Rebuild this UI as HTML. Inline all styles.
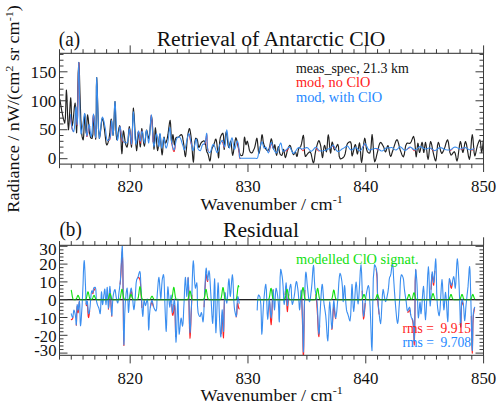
<!DOCTYPE html>
<html><head><meta charset="utf-8"><style>
html,body{margin:0;padding:0;background:#fff;width:500px;height:408px;overflow:hidden}
svg{display:block;font-family:"Liberation Serif",serif}
</style></head><body>
<svg width="500" height="408" viewBox="0 0 500 408">
<rect width="500" height="408" fill="#fff"/>
<defs><clipPath id="ca"><rect x="59.5" y="53.4" width="424" height="110.6"/></clipPath><clipPath id="cb"><rect x="59.5" y="245.3" width="424" height="110.1"/></clipPath></defs>
<g fill="none" stroke-linejoin="round" stroke-linecap="round" clip-path="url(#ca)">
<polyline points="59.8,99.0 60.4,102.8 61.8,111.1 63.5,119.4 64.7,123.1 65.4,117.9 65.8,106.6 66.1,95.2 66.4,90.1 66.9,96.3 67.4,109.9 67.9,123.6 68.5,129.8 69.0,124.8 69.6,113.9 70.2,102.9 70.7,97.9 71.1,102.3 71.4,111.9 71.7,121.5 72.2,125.9 72.9,122.3 73.7,114.5 74.4,106.7 75.1,103.1 75.6,107.8 76.0,118.0 76.3,128.2 76.6,132.8 77.1,121.8 77.7,97.6 78.2,73.5 78.8,62.5 79.4,72.4 80.0,94.8 80.8,119.1 81.8,134.7 82.1,136.7 82.5,138.4 82.9,139.5 83.2,139.9 83.7,135.8 84.1,127.0 84.4,118.1 84.7,114.1 85.1,117.1 85.4,123.5 85.8,130.0 86.2,133.0 86.5,130.2 86.8,124.0 87.2,117.7 87.6,114.9 88.2,118.1 88.8,125.3 89.5,133.0 90.6,137.6 91.0,138.0 91.4,138.3 91.8,138.5 92.1,138.4 92.9,134.4 93.2,126.3 93.3,118.5 93.5,114.9 94.0,118.7 94.6,127.0 95.2,135.3 95.7,139.1 96.1,129.5 96.3,108.3 96.4,87.1 96.7,77.5 97.2,87.0 97.8,107.9 98.5,128.9 99.4,138.4 100.1,135.2 100.9,128.1 101.6,121.0 102.4,117.8 102.9,119.1 103.5,122.3 104.0,126.3 104.5,130.0 105.0,134.3 105.6,139.2 106.1,143.3 106.8,145.0 107.4,144.4 108.0,142.7 108.6,140.5 109.1,138.2 109.8,133.2 110.3,126.9 110.7,121.4 111.2,119.1 111.7,121.6 112.2,127.2 112.7,132.8 113.1,135.3 113.6,130.0 114.1,118.4 114.6,106.8 115.0,101.5 115.4,107.5 115.7,120.6 116.1,133.7 116.8,139.7 117.5,137.5 118.2,132.7 119.0,127.9 119.7,125.7 120.4,130.1 121.0,139.7 121.4,149.3 121.9,153.7 122.3,150.1 122.6,142.3 122.9,134.5 123.4,130.9 123.9,132.6 124.4,136.4 125.0,140.9 125.6,144.1 126.0,145.2 126.4,146.2 126.7,146.9 127.1,147.1 127.8,143.8 128.3,136.7 128.8,129.7 129.3,126.5 129.9,129.7 130.4,136.8 131.0,143.9 131.5,147.1 132.0,141.0 132.5,127.6 132.9,114.2 133.4,108.1 134.1,114.7 134.9,129.4 135.8,144.0 136.6,150.7 137.1,147.7 137.6,141.2 138.0,134.6 138.5,131.6 139.0,134.0 139.4,139.3 139.9,144.6 140.3,147.0 140.7,144.1 141.0,137.8 141.4,131.4 141.8,128.5 142.4,131.3 143.0,137.3 143.7,143.4 144.4,146.2 144.9,143.7 145.5,138.1 146.0,132.6 146.6,130.0 147.1,131.4 147.7,134.4 148.3,137.4 148.8,138.8 149.6,135.2 150.2,127.4 150.9,119.5 151.5,116.0 152.2,121.2 152.9,132.6 153.5,143.9 154.0,149.1 154.4,145.8 154.7,138.5 155.0,131.1 155.4,127.8 155.9,131.4 156.4,139.2 157.0,147.0 157.6,150.6 158.2,148.1 158.7,142.5 159.3,136.9 159.9,134.4 160.5,137.6 161.0,144.7 161.6,151.8 162.1,155.0 162.6,152.2 163.0,146.0 163.5,139.8 164.0,137.0 164.3,138.0 164.7,140.1 165.1,142.2 165.5,143.2 165.9,142.8 166.3,141.8 166.8,140.3 167.2,138.8 168.0,134.2 168.8,128.1 169.5,122.7 170.1,120.4 170.6,124.0 171.0,131.8 171.3,139.6 171.7,143.2 172.0,141.9 172.3,138.9 172.6,135.9 172.9,134.6 173.3,136.2 173.7,139.8 174.1,143.4 174.5,145.0 174.8,144.0 175.0,141.8 175.4,139.3 176.0,137.7 176.5,137.4 177.2,137.3 177.8,137.2 178.5,137.0 179.3,136.4 180.1,135.5 180.9,134.8 181.5,134.6 182.1,135.4 182.6,137.1 182.9,139.2 183.3,141.4 183.9,145.5 184.4,150.6 184.9,154.9 185.4,156.7 185.9,154.3 186.5,148.5 187.0,141.8 187.6,136.5 188.0,133.9 188.5,131.3 189.0,129.3 189.4,128.5 189.9,129.5 190.4,132.1 190.9,135.5 191.3,138.9 191.9,145.2 192.4,152.9 192.9,159.4 193.4,162.2 193.8,158.6 194.2,150.6 194.7,142.4 195.6,138.3 195.9,138.2 196.3,138.4 196.7,138.6 197.0,139.0 197.6,140.8 198.0,143.7 198.4,146.3 198.9,147.5 199.4,146.9 200.0,145.3 200.7,143.6 201.5,142.3 202.2,141.7 203.0,141.2 203.7,140.9 204.4,141.0 205.2,142.6 205.8,145.6 206.2,148.9 206.7,151.4 207.0,152.2 207.4,152.7 207.7,153.3 208.0,154.0 208.5,155.9 209.0,158.2 209.5,160.3 209.9,161.1 210.4,159.6 210.8,156.0 211.3,151.9 211.9,148.8 212.3,147.7 212.8,146.8 213.3,145.9 213.8,144.9 214.3,143.2 214.9,141.3 215.3,139.7 215.8,139.0 216.4,140.5 216.9,143.9 217.3,148.0 217.7,151.4 218.0,153.5 218.2,155.6 218.4,157.2 218.6,157.9 218.9,155.3 219.2,149.4 219.6,142.6 220.3,137.7 220.9,136.1 221.6,134.6 222.3,133.5 222.9,133.2 223.5,135.8 223.8,141.4 223.9,146.9 224.2,149.4 224.6,146.7 225.1,140.7 225.6,134.6 226.2,131.9 226.8,134.3 227.4,139.7 228.1,145.0 228.8,147.5 229.3,146.5 229.8,144.2 230.3,142.0 230.7,141.0 231.2,143.3 231.7,148.2 232.2,153.1 232.7,155.3 233.4,152.6 234.2,146.5 235.1,140.5 235.9,137.7 236.5,138.9 237.1,141.8 237.8,145.2 238.4,148.2 238.9,150.3 239.4,152.4 240.0,154.2 240.7,155.3 241.1,155.5 241.6,155.6 242.1,155.5 242.5,155.3 243.4,151.8 243.8,145.7 244.1,139.8 244.5,137.1 244.9,138.3 245.2,140.9 245.6,143.5 246.0,144.7 246.3,144.2 246.6,143.0 246.9,141.7 247.2,141.2 247.5,141.6 247.8,142.7 248.1,144.0 248.4,145.3 248.8,147.0 249.1,148.8 249.5,150.5 250.1,151.8 250.5,152.3 251.0,152.7 251.5,152.9 251.9,152.9 252.4,152.5 252.8,151.8 253.2,150.8 253.6,150.0 253.9,149.3 254.2,148.7 254.5,147.9 254.8,147.1 255.3,144.8 255.9,141.8 256.4,139.3 256.9,138.2 257.4,140.6 257.9,145.9 258.4,151.1 258.9,153.5 259.3,152.6 259.8,150.2 260.3,147.4 260.7,144.7 261.1,141.8 261.4,138.5 261.7,135.8 262.1,134.7 262.4,135.7 262.8,138.2 263.1,141.1 263.6,143.5 264.0,144.8 264.4,146.1 264.9,147.2 265.4,148.2 265.8,149.0 266.3,149.7 266.7,150.3 267.2,150.6 267.6,150.6 268.1,150.3 268.5,149.9 268.9,149.4 269.6,147.0 270.2,143.5 270.8,140.2 271.3,138.8 271.9,140.5 272.5,144.1 273.1,147.7 273.6,149.4 273.9,148.7 274.2,147.0 274.5,145.4 274.8,144.7 275.2,146.4 275.7,150.0 276.1,153.6 276.6,155.3 277.0,153.9 277.5,150.9 277.9,147.9 278.4,146.5 278.8,147.5 279.1,149.8 279.5,152.3 280.1,154.1 280.5,154.6 281.0,155.0 281.5,155.3 281.9,155.3 282.4,154.2 282.9,152.2 283.2,150.3 283.6,149.4 284.1,150.7 284.5,153.5 284.9,156.3 285.4,157.6 285.9,156.6 286.5,154.3 287.1,151.6 287.8,149.4 288.3,148.1 288.8,146.7 289.4,145.7 289.9,145.3 290.4,145.9 290.9,147.3 291.4,149.1 291.9,150.6 292.3,151.8 292.7,153.2 293.2,154.2 293.6,154.7 294.0,154.3 294.5,153.2 295.0,152.2 295.4,151.8 295.8,152.6 296.2,154.2 296.5,155.8 296.9,156.5 297.4,155.4 297.8,153.0 298.3,150.2 298.9,148.2 299.3,147.7 299.8,147.4 300.3,147.0 300.7,146.5 301.5,143.9 302.2,140.1 302.8,136.7 303.4,135.3 303.9,138.6 304.2,145.8 304.6,153.0 305.4,156.5 305.9,156.2 306.5,155.4 307.2,154.3 307.8,153.5 308.4,152.9 309.0,152.3 309.6,151.9 310.1,151.8 311.1,153.7 311.9,157.5 312.7,161.3 313.4,162.9 314.0,161.7 314.5,158.8 314.9,155.4 315.4,152.4 315.8,150.3 316.3,148.3 316.7,146.4 317.2,144.7 317.6,143.4 318.0,142.0 318.5,141.0 318.9,140.6 319.4,141.1 319.8,142.5 320.3,144.2 320.7,145.9 321.2,149.0 321.7,152.9 322.1,156.2 322.5,157.6 323.0,155.7 323.4,151.5 323.9,147.2 324.5,145.3 325.0,146.3 325.5,148.6 326.0,150.8 326.4,151.8 327.0,149.1 327.4,143.3 327.8,137.4 328.3,134.8 328.9,137.7 329.4,144.0 330.0,150.3 330.6,153.2 331.0,151.5 331.3,147.6 331.7,143.8 332.2,142.0 332.7,143.2 333.3,145.9 333.9,148.7 334.6,150.0 335.4,149.1 336.2,147.2 337.1,145.2 337.8,144.4 338.5,146.6 338.8,151.4 339.2,156.2 340.2,158.8 341.1,158.8 342.2,158.3 343.3,157.5 344.2,156.4 345.2,153.7 345.9,149.9 346.4,146.2 347.4,143.6 348.1,142.8 349.0,142.1 349.8,141.8 350.5,141.8 351.3,144.3 351.6,149.2 351.7,153.9 352.1,156.0 352.8,154.2 353.7,150.3 354.5,146.3 355.3,144.5 355.9,146.0 356.4,149.3 356.9,152.5 357.4,154.0 357.9,152.3 358.5,148.4 359.0,144.6 359.5,142.9 360.1,146.0 360.6,152.7 361.0,159.4 361.6,162.4 362.3,158.6 363.1,150.3 363.9,142.0 364.7,138.2 365.3,140.0 365.8,144.2 366.4,148.8 367.4,151.8 368.0,152.4 368.6,152.9 369.2,153.1 369.8,153.0 370.8,149.7 371.3,143.4 371.7,137.3 372.1,134.5 372.7,138.8 373.3,148.1 373.9,157.5 374.7,161.8 375.3,160.8 376.0,158.3 376.7,155.2 377.4,152.4 378.1,149.5 378.8,146.2 379.6,143.6 380.5,142.4 381.3,142.8 382.1,144.1 383.0,145.7 383.7,147.1 384.2,148.5 384.7,150.1 385.1,151.5 385.5,152.0 386.1,151.0 386.7,148.7 387.3,146.5 387.9,145.5 388.6,147.2 389.2,150.9 389.9,154.7 390.6,156.4 391.2,155.8 391.7,154.1 392.3,152.0 393.0,150.0 393.9,147.1 395.0,143.6 396.0,140.8 397.0,139.6 397.8,140.8 398.6,143.7 399.4,147.1 400.2,150.0 401.0,152.1 401.8,154.4 402.6,156.1 403.4,156.8 404.2,154.8 404.9,150.5 405.6,145.9 406.8,143.2 407.6,143.0 408.5,143.2 409.4,143.4 410.2,143.2 411.2,141.7 412.1,139.4 412.9,137.3 413.6,136.4 414.5,139.7 415.2,146.7 415.7,153.6 416.2,156.8 416.6,154.7 417.1,150.0 417.5,145.3 417.9,143.2 418.3,144.6 418.7,147.8 419.1,151.0 419.6,152.5 420.2,150.9 420.9,147.4 421.5,143.9 422.1,142.3 422.6,143.9 423.0,147.4 423.4,150.9 423.8,152.5 424.2,150.9 424.6,147.4 425.1,143.9 425.5,142.3 426.1,145.0 426.8,150.8 427.4,156.6 428.1,159.3 428.7,156.5 429.3,150.4 429.9,144.3 430.6,141.5 431.2,142.7 431.9,145.7 432.5,149.3 433.2,152.5 433.8,155.1 434.5,157.9 435.1,160.1 435.7,161.0 436.4,158.1 437.0,151.7 437.5,145.3 438.3,142.3 439.1,144.0 439.9,147.8 440.8,151.6 441.7,153.4 442.3,153.0 442.9,151.9 443.6,150.5 444.2,149.1 445.1,146.6 445.9,143.5 446.8,140.9 447.6,139.8 448.4,142.2 449.1,147.3 449.9,152.5 451.0,155.1 451.8,154.7 452.7,153.4 453.6,152.2 454.4,151.7 455.2,153.3 455.9,156.5 456.4,159.6 457.0,161.0 457.9,157.9 458.7,151.2 459.6,144.6 460.4,141.5 461.0,143.2 461.6,147.0 462.3,150.8 462.9,152.5 463.5,150.8 464.2,147.0 464.8,143.2 465.5,141.5 466.5,144.3 467.5,150.4 468.5,156.5 469.4,159.3 470.3,155.4 471.0,147.0 471.6,138.5 472.3,134.7 472.9,138.0 473.5,145.3 474.1,152.6 474.8,155.9 475.4,154.7 476.0,151.9 476.7,148.5 477.4,145.7 478.0,143.8 478.7,141.9 479.3,140.4 479.9,139.8 480.5,141.8 480.9,146.2 481.2,150.5 481.6,152.5 482.1,150.6 482.7,146.6 483.1,142.5 483.3,140.6" stroke="#222" stroke-width="1.15"/>
<polyline points="70.5,116.0 70.6,117.9 71.0,122.2 71.6,126.7 72.2,129.5 72.6,130.2 72.9,131.0" stroke="#ff2020" stroke-width="1.0"/>
<polyline points="76.6,116.1 76.9,122.5 77.2,125.5 77.7,115.9 78.0,94.3 78.4,72.7 78.8,62.7 79.2,73.7 79.6,98.2" stroke="#ff2020" stroke-width="1.0"/>
<polyline points="86.3,132.8 86.9,136.8 87.4,135.4 88.0,131.6 88.5,127.3 89.1,125.0 89.7,126.6" stroke="#ff2020" stroke-width="1.0"/>
<polyline points="92.5,125.7 93.0,118.0 93.5,114.7 94.1,118.5 94.7,126.4 95.2,134.2 95.7,137.7" stroke="#ff2020" stroke-width="1.0"/>
<polyline points="108.6,140.6 109.2,140.5 109.7,140.1 110.6,135.9 111.0,129.4 111.3,123.5 111.6,120.8" stroke="#ff2020" stroke-width="1.0"/>
<polyline points="120.0,126.6 120.5,128.6 121.0,133.0 121.6,138.1 122.4,141.3 123.0,141.7 123.6,141.9" stroke="#ff2020" stroke-width="1.0"/>
<polyline points="129.3,128.8 129.9,131.5 130.5,137.1 131.0,142.6 131.5,144.8 132.1,139.5 132.5,128.2" stroke="#ff2020" stroke-width="1.0"/>
<polyline points="137.9,133.1 138.5,131.4 139.0,133.7 139.4,137.8 139.9,141.7 140.3,143.3 140.7,141.1 141.2,137.0 141.6,132.9 142.1,131.0" stroke="#ff2020" stroke-width="1.0"/>
<polyline points="150.7,119.3 151.3,115.1 151.9,120.2 152.5,131.1 153.1,141.8" stroke="#ff2020" stroke-width="1.0"/>
<polyline points="171.7,142.7 172.2,145.5 172.8,148.6 173.5,151.2 174.1,151.9 174.8,149.4 175.4,144.8" stroke="#ff2020" stroke-width="1.0"/>
<polyline points="188.8,134.0 189.5,135.8 190.1,138.9 190.7,141.9 191.3,144.3 191.8,146.1" stroke="#ff2020" stroke-width="1.0"/>
<polyline points="204.1,144.4 204.5,144.4 205.3,143.1 205.9,139.9 206.3,136.4 206.7,134.5 207.0,136.5 207.1,141.7 207.4,147.3 208.0,150.8" stroke="#ff2020" stroke-width="1.0"/>
<polyline points="221.0,142.1 221.7,141.4 222.3,141.8 222.9,143.4 223.5,145.5 224.0,147.1 224.5,147.5" stroke="#ff2020" stroke-width="1.0"/>
<polyline points="236.6,142.6 237.2,142.0 237.5,142.7 237.8,143.9 238.1,145.2 238.4,146.4 238.8,149.4 239.2,153.3 239.4,156.8 239.8,158.6 239.9,158.6 239.9,158.7 240.0,158.6 240.1,158.6 240.5,158.4" stroke="#ff2020" stroke-width="1.0"/>
<polyline points="269.2,151.5 269.9,148.5 270.6,145.7 271.3,144.2 271.8,144.4 272.3,145.7 272.8,147.4" stroke="#ff2020" stroke-width="1.0"/>
<polyline points="285.2,150.7 286.0,150.9 286.9,150.9 287.8,149.4 288.6,147.7" stroke="#ff2020" stroke-width="1.0"/>
<polyline points="301.1,148.9 302.0,150.1 302.7,150.8 303.3,150.7 304.0,149.7 304.6,148.7" stroke="#ff2020" stroke-width="1.0"/>
<polyline points="316.0,147.5 316.9,149.0 317.7,150.5 318.5,150.9 319.5,150.8" stroke="#ff2020" stroke-width="1.0"/>
<polyline points="332.0,146.3 332.5,146.0 333.0,146.3 334.1,147.7 335.2,148.7" stroke="#ff2020" stroke-width="1.0"/>
<polyline points="362.6,147.4 363.8,145.6 365.0,144.1" stroke="#ff2020" stroke-width="1.0"/>
<polyline points="376.0,148.6 377.0,149.2 378.2,149.5" stroke="#ff2020" stroke-width="1.0"/>
<polyline points="407.5,149.0 408.7,148.4 410.0,147.5" stroke="#ff2020" stroke-width="1.0"/>
<polyline points="412.5,148.8 413.8,150.7 415.0,150.6" stroke="#ff2020" stroke-width="1.0"/>
<polyline points="431.3,148.7 432.5,150.2 433.8,150.9" stroke="#ff2020" stroke-width="1.0"/>
<polyline points="450.0,150.5 451.3,150.2 452.5,148.6" stroke="#ff2020" stroke-width="1.0"/>
<polyline points="461.2,149.4 462.5,149.0 463.8,147.8" stroke="#ff2020" stroke-width="1.0"/>
<polyline points="471.2,149.8 472.5,150.0 473.6,149.3 474.0,148.9" stroke="#ff2020" stroke-width="1.0"/>
<polyline points="70.5,114.6 70.6,116.4 71.0,120.6 71.6,125.3 72.2,128.8 72.6,129.9 72.9,130.9 73.3,131.6 73.7,131.8 74.5,127.8 75.0,119.2 75.5,110.7 75.9,106.8 76.3,109.6 76.6,115.9 76.9,122.2 77.2,125.0 77.7,115.2 78.0,93.6 78.4,72.0 78.8,62.2 79.2,73.4 79.6,98.1 80.1,122.7 81.0,134.0 81.4,132.9 81.9,130.3 82.4,127.0 82.9,124.0 83.4,120.9 83.8,117.4 84.3,114.6 84.7,113.4 85.3,117.0 85.8,124.8 86.3,132.6 86.9,136.2 87.4,134.4 88.0,130.3 88.5,126.2 89.1,124.4 89.7,126.4 90.2,130.7 90.8,135.0 91.3,136.9 91.9,133.3 92.5,125.5 93.0,117.7 93.5,114.1 94.1,117.8 94.7,125.9 95.2,133.9 95.7,137.6 96.1,128.2 96.3,107.5 96.4,86.9 96.7,77.5 97.2,87.0 97.8,107.9 98.5,128.9 99.4,138.4 100.1,135.1 100.8,127.8 101.5,120.5 102.4,117.1 103.1,118.3 103.9,121.2 104.6,124.8 105.3,128.1 105.8,131.7 106.2,135.6 106.7,139.0 107.5,140.6 108.0,140.6 108.6,140.3 109.2,139.8 109.7,139.1 110.6,135.1 111.0,128.9 111.3,123.1 111.6,120.6 112.0,122.9 112.4,128.0 112.7,133.0 113.1,135.3 113.6,130.0 114.1,118.4 114.5,106.8 115.0,101.5 115.5,107.6 116.1,120.9 116.7,134.3 117.5,140.4 118.1,138.2 118.7,133.5 119.4,128.7 120.0,126.5 120.5,128.2 121.0,132.1 121.6,136.5 122.4,139.7 123.0,140.7 123.6,141.5 124.2,142.2 124.9,142.6 125.4,142.8 126.0,142.9 126.6,142.9 127.1,142.6 128.0,139.9 128.5,135.2 128.9,130.7 129.3,128.7 129.9,131.1 130.5,136.4 131.0,141.7 131.5,144.1 132.1,139.0 132.5,127.9 132.9,116.8 133.4,111.8 133.9,116.8 134.5,127.9 135.1,139.0 135.9,144.1 136.5,142.1 137.2,137.5 137.9,133.0 138.5,130.9 139.0,132.5 139.4,136.1 139.9,139.6 140.3,141.2 140.7,139.6 141.2,136.1 141.6,132.5 142.1,130.9 142.7,132.8 143.3,137.0 143.9,141.1 144.5,143.0 145.0,141.0 145.5,136.6 146.0,132.2 146.5,130.2 147.0,132.2 147.6,136.6 148.2,141.0 148.7,143.0 149.4,138.6 150.1,128.8 150.7,119.1 151.3,114.7 151.9,119.7 152.5,130.6 153.1,141.5 153.9,146.5 154.5,144.5 155.2,140.1 155.8,135.6 156.5,133.6 157.2,135.6 157.8,140.1 158.5,144.5 159.0,146.5 159.3,144.4 159.6,139.9 159.7,135.4 160.0,133.4 160.4,135.7 160.8,140.7 161.3,145.8 161.8,148.1 162.2,146.5 162.7,142.9 163.2,139.3 163.7,137.7 164.3,139.3 164.9,142.9 165.5,146.5 166.1,148.1 166.6,147.4 167.1,145.8 167.6,143.6 168.0,141.4 168.5,137.6 169.0,132.9 169.4,129.0 169.8,127.3 170.2,129.1 170.6,133.4 171.1,138.5 171.7,142.6 172.2,145.0 172.8,147.4 173.5,149.3 174.1,150.0 174.8,148.3 175.4,144.4 176.2,140.3 177.2,137.7 177.8,137.3 178.4,137.0 179.0,136.9 179.6,137.1 180.5,138.3 181.3,140.5 182.0,143.0 182.7,145.1 183.2,146.6 183.6,148.2 184.0,149.5 184.5,150.0 185.5,147.4 186.6,141.7 187.8,136.0 188.8,133.4 189.5,134.6 190.1,137.4 190.7,140.9 191.3,143.8 191.8,145.9 192.2,148.1 192.6,149.9 193.1,150.6 193.8,148.8 194.7,144.7 195.5,140.7 196.2,138.9 196.7,140.2 197.0,143.1 197.4,146.4 198.0,148.7 198.5,149.5 199.1,150.2 199.7,150.6 200.2,150.7 200.9,149.7 201.5,147.7 202.1,145.5 202.8,144.2 203.2,144.1 203.7,144.1 204.1,144.2 204.5,144.0 205.3,141.8 205.9,138.2 206.3,134.7 206.7,133.2 207.0,135.6 207.1,140.9 207.4,146.8 208.0,150.7 208.4,151.5 208.9,152.2 209.4,152.6 209.9,152.7 210.8,151.3 211.6,148.4 212.4,145.5 213.2,144.2 213.5,144.3 213.9,144.8 214.2,145.4 214.5,146.0 215.1,147.7 215.8,149.9 216.5,151.9 217.1,152.7 217.7,151.8 218.4,149.6 219.0,147.1 219.7,144.9 220.3,143.4 221.0,141.9 221.7,140.7 222.3,140.3 222.9,141.4 223.5,143.7 224.0,146.0 224.5,147.0 225.2,144.3 225.7,138.4 226.2,132.6 226.8,129.9 227.4,132.7 228.0,139.0 228.7,145.2 229.4,148.1 230.0,146.5 230.7,142.9 231.3,139.3 232.0,137.7 232.6,139.5 233.3,143.5 233.9,147.6 234.6,149.4 235.2,148.1 235.9,145.2 236.6,142.3 237.2,141.0 237.5,141.3 237.8,142.0 238.1,143.0 238.4,144.1 238.8,147.3 239.2,151.7 239.4,155.7 239.8,157.9 239.9,158.0 239.9,158.1 240.0,158.2 240.1,158.2 240.5,158.3 241.0,158.3 241.7,158.2 242.2,158.2 242.8,158.2 243.3,158.2 243.8,158.2 244.4,158.2 244.9,158.2 245.4,158.2 246.0,158.2 246.5,158.2 247.0,158.2 247.6,158.2 248.1,158.2 248.6,158.2 249.2,158.2 249.7,158.2 250.3,158.2 250.8,158.2 251.3,158.2 251.9,158.2 252.4,158.2 252.9,158.2 253.5,158.2 254.0,158.2 254.5,158.2 255.1,158.2 255.6,158.3 256.2,158.4 256.7,158.4 257.2,158.2 257.8,157.2 258.2,155.6 258.5,153.7 258.9,151.8 259.6,149.0 260.4,145.7 261.1,143.0 261.9,141.8 262.5,142.8 263.0,144.9 263.6,147.1 264.2,148.2 264.6,148.1 265.0,147.6 265.4,147.2 265.8,147.0 266.5,148.0 267.1,150.1 267.8,152.0 268.4,152.9 269.2,151.2 269.9,147.6 270.6,144.0 271.3,142.4 271.8,143.2 272.3,145.0 272.8,147.2 273.5,149.0 274.2,150.3 275.0,151.6 275.8,152.6 276.6,152.9 277.7,151.2 278.8,147.8 279.8,144.4 280.7,142.9 281.3,144.1 281.8,146.8 282.3,149.6 283.1,151.2 283.7,151.3 284.5,151.0 285.2,150.5 286.0,150.0 286.9,149.2 287.8,148.2 288.6,147.4 289.5,147.1 290.5,148.2 291.5,150.4 292.5,152.5 293.6,153.5 294.7,152.7 295.9,150.7 297.2,148.7 298.4,147.6 299.3,147.7 300.2,148.2 301.1,148.7 302.0,149.0 302.7,148.9 303.3,148.8 304.0,148.5 304.6,148.3 305.2,148.1 305.9,147.8 306.5,147.6 307.2,147.6 308.2,148.3 309.2,149.5 310.2,150.7 311.3,151.2 312.5,150.6 313.7,149.1 314.9,147.7 316.0,147.1 316.9,147.6 317.7,148.7 318.5,149.8 319.5,150.6 320.6,150.9 321.8,150.9 323.0,150.8 324.2,150.6 325.2,150.3 326.2,149.9 327.1,149.4 328.0,149.0 328.8,148.7 329.6,148.3 330.3,147.9 331.0,147.5 331.5,146.9 332.0,146.1 332.5,145.5 333.0,145.2 334.1,146.2 335.2,148.3 336.5,150.5 337.8,151.6 338.8,151.4 339.9,150.7 341.0,149.8 342.0,149.0 342.7,148.6 343.4,148.2 344.0,147.9 344.7,147.5 345.4,147.0 346.0,146.5 346.7,146.1 347.4,146.0 348.3,146.7 349.1,148.0 350.0,149.3 351.0,150.0 352.2,149.7 353.5,148.8 354.8,147.9 356.0,147.6 357.1,148.2 358.1,149.4 359.0,150.6 360.0,151.0 361.3,149.7 362.6,147.2 363.8,144.7 365.0,143.6 366.0,144.5 366.9,146.6 367.9,148.7 369.0,150.0 369.9,150.1 370.9,149.8 372.0,149.3 373.0,149.0 374.0,148.8 375.0,148.5 376.0,148.4 377.0,148.4 378.2,148.9 379.5,149.8 380.8,150.7 382.0,151.0 383.1,150.5 384.1,149.6 385.1,148.6 386.0,148.0 386.5,147.9 387.0,147.8 387.5,147.9 388.0,147.9 388.5,147.8 389.0,147.8 389.5,147.8 390.0,147.7 390.5,147.7 391.0,147.6 391.5,147.5 392.0,147.6 392.9,148.1 393.9,148.9 395.0,149.7 396.0,150.0 397.0,149.5 398.1,148.4 399.1,147.3 400.2,146.8 401.4,147.4 402.6,148.6 403.8,149.9 405.0,150.5 406.2,150.0 407.5,148.8 408.7,147.6 410.0,147.0 411.2,147.5 412.5,148.5 413.8,149.5 415.0,150.0 416.3,149.5 417.5,148.3 418.7,147.2 420.0,146.6 421.2,146.9 422.5,147.7 423.7,148.5 425.0,149.0 426.2,148.9 427.5,148.5 428.8,148.1 430.0,148.0 431.3,148.5 432.5,149.4 433.8,150.2 435.0,150.5 436.3,150.0 437.5,149.0 438.7,148.0 440.0,147.5 441.2,147.7 442.5,148.3 443.7,149.0 445.0,149.5 446.2,149.8 447.5,150.0 448.8,150.1 450.0,150.0 451.3,149.4 452.5,148.4 453.7,147.5 455.0,147.0 456.2,147.2 457.5,147.9 458.7,148.6 460.0,149.0 461.2,148.8 462.5,148.2 463.8,147.7 465.0,147.5 466.3,147.9 467.5,148.7 468.8,149.4 470.0,149.8 471.2,149.6 472.5,149.2 473.6,148.7 474.0,148.5" stroke="#3a8ef0" stroke-width="1.05"/>
</g><g fill="none" stroke-linejoin="round" stroke-linecap="round" clip-path="url(#cb)">
<line x1="59.5" y1="299.7" x2="483.5" y2="299.7" stroke="#222" stroke-width="1.2"/>
<polyline points="71.3,319.4 71.4,319.6 71.8,319.6 72.2,319.2 72.6,318.7 73.0,316.9" stroke="#ff2020" stroke-width="1.1"/>
<polyline points="76.3,325.3 76.5,322.4 76.7,315.7 76.9,309.1 77.2,306.4 77.4,307.6 77.6,309.8 77.9,311.9 78.1,312.8 78.4,311.1 78.8,307.4 79.1,303.7 79.4,301.8" stroke="#ff2020" stroke-width="1.1"/>
<polyline points="86.1,303.1 86.4,305.6 86.6,305.5 86.8,304.9 87.1,304.4 87.3,304.6 87.6,307.4 87.9,312.2 88.2,316.4 88.6,317.6 88.9,316.5 89.2,314.7 89.4,312.7 89.7,310.8" stroke="#ff2020" stroke-width="1.1"/>
<polyline points="92.3,292.2 92.6,293.1 92.8,293.7 93.0,293.5 93.2,292.4 93.4,291.2 93.7,290.6 94.0,290.4 94.4,289.7 94.8,288.9 95.2,288.3" stroke="#ff2020" stroke-width="1.1"/>
<polyline points="108.4,309.1 108.8,306.3 109.1,299.6 109.5,293.0 109.9,290.0 110.4,294.3 110.9,303.4 111.4,312.3 111.8,316.2" stroke="#ff2020" stroke-width="1.1"/>
<polyline points="120.1,284.1 120.4,281.3 120.9,274.2 121.4,264.8 121.9,256.0 122.3,251.6 122.8,265.2 123.2,297.8 123.5,330.8 123.9,345.4" stroke="#ff2020" stroke-width="1.1"/>
<polyline points="129.4,301.3 129.8,297.5 130.1,295.6 130.5,293.7 130.9,292.1 131.2,291.2 131.5,291.8 131.9,293.6 132.2,296.0 132.5,298.4" stroke="#ff2020" stroke-width="1.1"/>
<polyline points="137.9,277.8 138.4,277.3 138.9,277.5 139.4,278.4 139.8,279.2 140.3,281.1 140.6,284.9 140.8,290.1 141.1,294.6 141.5,300.1 141.9,307.4" stroke="#ff2020" stroke-width="1.1"/>
<polyline points="150.4,307.1 150.9,304.6 151.4,302.9 151.9,302.4 152.4,303.2 152.9,304.9 153.5,306.8" stroke="#ff2020" stroke-width="1.1"/>
<polyline points="171.8,304.4 172.1,311.1 172.5,315.2 172.9,315.3 173.5,312.7 174.0,308.5 174.4,305.0 175.0,309.1 175.3,322.5 175.6,336.5" stroke="#ff2020" stroke-width="1.1"/>
<polyline points="188.1,278.0 188.6,287.6 189.1,308.2 189.5,328.8 190.0,338.1 190.3,335.1 190.7,327.6 191.0,318.0 191.4,308.8 191.9,295.0" stroke="#ff2020" stroke-width="1.1"/>
<polyline points="204.1,306.7 204.4,300.3 204.8,292.9 205.3,284.5 205.7,277.6 206.2,274.3 206.5,275.3 206.9,278.0 207.2,280.7 207.6,281.4 207.9,279.3" stroke="#ff2020" stroke-width="1.1"/>
<polyline points="221.2,333.6 221.5,325.3 221.8,317.4 222.2,314.9 222.5,319.8 222.9,328.1 223.2,335.4 223.5,337.9 223.8,330.4 224.0,315.7 224.4,300.8 224.9,293.1" stroke="#ff2020" stroke-width="1.1"/>
<polyline points="236.2,317.0 236.7,314.8 237.0,309.1 237.4,304.0 237.8,303.2 238.2,305.8 238.7,308.0 239.0,308.7 239.2,308.9" stroke="#ff2020" stroke-width="1.1"/>
<polyline points="269.3,300.2 269.8,304.6 270.2,313.4 270.7,321.7 271.2,324.8 271.7,318.6 272.2,306.7 272.7,295.3 273.1,290.1" stroke="#ff2020" stroke-width="1.1"/>
<polyline points="285.2,294.5 285.7,288.3 286.1,286.7 286.5,291.7 286.7,300.5 287.0,308.6 287.4,311.6 287.7,309.1 288.0,304.5 288.4,299.1 288.8,294.5" stroke="#ff2020" stroke-width="1.1"/>
<polyline points="301.2,291.0 301.6,295.2 301.9,304.0 302.2,314.6 302.5,324.4 302.8,335.1 303.0,346.5 303.2,355.5 303.4,358.8 303.7,351.2 303.9,334.7 304.2,315.3 304.6,299.2 304.9,290.3" stroke="#ff2020" stroke-width="1.1"/>
<polyline points="315.8,294.5 316.3,298.6 316.8,303.7 317.5,314.9 318.0,326.1 318.4,334.3 318.9,336.6 319.3,332.8 319.6,325.7" stroke="#ff2020" stroke-width="1.1"/>
<polyline points="331.9,329.4 332.4,326.1 332.8,317.9 333.3,309.9 333.8,306.3 334.2,308.3 334.7,312.7 335.2,317.0 335.7,318.6" stroke="#ff2020" stroke-width="1.1"/>
<polyline points="362.2,291.0 362.8,309.5 363.5,319.0 364.0,317.2 364.6,311.2 365.2,303.4" stroke="#ff2020" stroke-width="1.1"/>
<polyline points="376.1,269.0 376.5,271.6 377.1,277.9 377.3,285.0 377.4,292.6 377.7,299.7 378.3,306.6 379.1,314.1" stroke="#ff2020" stroke-width="1.1"/>
<polyline points="407.6,312.0 408.0,312.2 408.5,311.9 409.1,311.0 409.5,309.9 410.0,310.2 410.3,312.1 410.6,314.7" stroke="#ff2020" stroke-width="1.1"/>
<polyline points="412.1,319.0 412.6,320.7 413.0,323.0 413.6,329.5 413.9,336.7 414.1,342.7 414.3,345.0 414.7,333.0 415.0,307.6 415.2,282.2 415.7,270.0" stroke="#ff2020" stroke-width="1.1"/>
<polyline points="431.1,289.3 431.6,278.3 432.2,274.2 432.6,276.7 432.9,280.8 433.3,284.3 433.7,285.3 434.2,280.3 434.8,271.2" stroke="#ff2020" stroke-width="1.1"/>
<polyline points="449.4,279.2 449.8,281.0 450.3,284.4 450.9,287.5 451.4,288.3 452.0,285.8 452.6,281.6" stroke="#ff2020" stroke-width="1.1"/>
<polyline points="460.3,322.4 460.7,327.2 461.0,323.5 461.2,314.7 461.5,306.0 462.0,302.2 462.3,302.5 462.7,303.2 463.1,304.2 463.4,305.5" stroke="#ff2020" stroke-width="1.1"/>
<polyline points="471.3,316.4 471.6,333.0 472.0,347.0 472.3,353.1 472.5,348.5 472.7,337.2 472.9,324.6 473.4,315.2 473.8,312.5 474.2,309.9 474.5,308.2" stroke="#ff2020" stroke-width="1.1"/>
<polyline points="71.3,313.8 71.4,314.4 71.8,315.7 72.2,316.9 72.6,317.5 73.0,316.3 73.3,313.8 73.6,311.3 73.9,310.1 74.3,310.7 74.7,312.1 75.1,313.9 75.4,315.7 75.7,318.3 75.9,321.3 76.1,323.8 76.3,324.9 76.5,321.7 76.7,314.8 76.9,307.8 77.2,304.6 77.4,305.5 77.6,307.3 77.9,309.2 78.1,310.1 78.4,308.7 78.8,305.5 79.1,302.4 79.4,301.0 79.8,304.9 80.0,313.4 80.2,321.9 80.5,325.8 80.8,324.1 81.2,320.0 81.5,314.8 81.8,310.1 82.1,305.7 82.3,301.3 82.5,296.8 82.7,291.8 83.1,283.1 83.4,272.8 83.8,264.1 84.2,260.5 84.5,263.4 84.9,270.5 85.2,279.0 85.5,286.3 85.7,291.9 85.9,297.9 86.1,302.6 86.4,304.6 86.6,304.0 86.8,302.8 87.1,301.6 87.3,301.0 87.6,303.0 87.9,307.4 88.2,311.8 88.6,313.8 88.9,313.5 89.2,312.5 89.4,311.3 89.7,310.0 90.1,306.8 90.4,302.8 90.7,298.7 91.0,295.4 91.2,293.9 91.4,292.4 91.6,291.3 91.9,290.8 92.1,291.1 92.3,291.7 92.6,292.3 92.8,292.6 93.0,292.0 93.2,290.7 93.4,289.2 93.7,288.1 94.0,287.7 94.4,287.4 94.8,287.2 95.2,287.2 95.8,289.2 96.1,293.2 96.2,297.6 96.5,301.0 96.7,302.1 96.9,303.0 97.1,303.8 97.4,304.6 97.7,305.5 98.1,306.4 98.5,307.3 98.9,308.3 99.3,309.9 99.6,311.7 99.9,313.2 100.2,313.8 100.6,310.3 100.9,302.8 101.2,295.2 101.5,291.8 101.8,293.8 102.0,298.2 102.3,302.6 102.6,304.6 102.9,303.6 103.2,301.0 103.5,298.0 103.8,295.4 104.1,293.4 104.3,291.3 104.6,289.7 104.8,289.0 105.1,291.4 105.4,296.8 105.7,302.2 106.0,304.6 106.3,301.9 106.6,295.9 106.9,289.9 107.2,287.2 107.5,290.5 107.8,297.8 108.1,305.0 108.4,308.3 108.8,304.9 109.1,297.3 109.5,289.7 109.9,286.3 110.4,290.9 110.9,301.0 111.4,311.1 111.8,315.7 112.1,313.5 112.3,308.3 112.6,302.2 113.0,297.3 113.4,294.7 113.9,292.2 114.4,290.3 114.9,289.5 115.3,290.4 115.6,292.7 115.9,295.3 116.3,297.6 116.6,299.3 117.0,301.1 117.4,302.4 117.7,303.0 118.1,301.8 118.4,299.0 118.7,295.4 119.0,292.2 119.4,289.3 119.7,286.5 120.1,283.5 120.4,280.0 120.9,271.0 121.4,259.5 121.9,249.7 122.3,245.5 122.8,261.0 123.2,295.1 123.5,329.2 123.9,344.7 124.2,339.9 124.4,328.4 124.7,315.0 125.2,304.3 125.6,299.0 126.1,293.7 126.7,289.7 127.1,288.1 127.5,291.9 127.9,300.3 128.2,308.6 128.5,312.4 128.8,310.5 129.1,306.0 129.4,300.6 129.8,296.2 130.1,293.6 130.5,291.0 130.9,288.9 131.2,288.1 131.5,289.1 131.9,291.6 132.2,294.7 132.5,297.6 132.9,301.1 133.2,305.1 133.6,308.3 133.9,309.7 134.2,308.4 134.6,305.3 134.9,301.4 135.2,297.6 135.5,293.1 135.8,288.0 136.1,283.4 136.6,280.0 136.9,279.2 137.2,278.6 137.6,278.0 137.9,277.3 138.4,275.7 138.9,273.7 139.4,272.1 139.8,271.4 140.3,273.5 140.6,278.5 140.8,284.9 141.1,290.8 141.5,298.2 141.9,306.6 142.4,313.5 142.8,316.4 143.1,313.9 143.4,308.4 143.7,302.8 144.1,300.3 144.4,301.1 144.8,302.9 145.1,304.8 145.5,305.6 145.9,304.6 146.4,302.3 146.9,300.0 147.3,299.0 147.9,303.9 148.2,314.5 148.4,325.1 148.7,329.9 149.0,327.5 149.2,321.8 149.5,315.2 150.0,309.7 150.4,306.7 150.9,303.6 151.4,301.3 151.9,300.3 152.4,301.3 152.9,303.6 153.5,306.2 154.1,308.3 154.6,309.2 155.1,310.2 155.6,310.8 156.0,311.0 156.6,308.9 156.9,304.3 157.0,298.6 157.3,293.5 157.7,288.6 158.1,283.3 158.5,279.1 158.9,277.3 159.4,280.7 159.9,288.1 160.4,295.5 160.8,298.9 161.1,296.6 161.4,291.1 161.8,284.8 162.2,280.0 162.5,278.2 162.9,276.4 163.2,275.1 163.5,274.6 164.0,277.9 164.3,285.8 164.6,295.6 164.9,304.3 165.2,312.5 165.6,321.4 165.9,328.6 166.2,331.5 166.6,324.5 167.0,309.2 167.4,293.9 167.9,286.9 168.3,290.1 168.8,297.0 169.3,304.0 169.8,307.2 170.1,305.3 170.5,301.1 170.8,296.9 171.1,295.0 171.4,297.8 171.8,303.8 172.1,309.8 172.5,312.6 172.9,310.5 173.5,305.8 174.0,301.1 174.4,299.0 175.0,305.8 175.3,320.7 175.6,335.5 176.0,342.3 176.5,335.5 177.0,320.7 177.5,305.8 177.9,299.0 178.2,304.5 178.5,316.6 178.8,328.7 179.2,334.2 179.6,331.7 180.1,326.1 180.6,320.5 181.1,318.0 181.5,319.3 181.8,322.1 182.2,324.8 182.5,326.1 183.0,323.4 183.4,317.0 183.7,309.0 184.1,301.8 184.4,294.6 184.7,286.6 185.1,280.1 185.4,277.4 185.7,280.4 186.1,286.9 186.5,293.4 186.8,296.4 187.1,293.4 187.5,286.9 187.8,280.4 188.1,277.4 188.6,286.1 189.1,305.1 189.5,324.1 190.0,332.8 190.3,330.2 190.7,323.7 191.0,315.3 191.4,307.2 191.9,294.4 192.3,279.0 192.8,266.1 193.3,260.7 193.8,265.0 194.2,274.4 194.8,283.9 195.4,288.2 195.7,287.4 196.1,285.5 196.5,283.6 196.8,282.8 197.2,286.8 197.3,295.8 197.5,305.7 198.1,312.6 198.5,314.1 199.0,315.4 199.5,316.3 200.0,316.6 200.4,316.0 200.7,314.6 201.1,313.2 201.4,312.6 201.9,314.1 202.3,317.3 202.7,320.5 203.0,322.0 203.4,319.5 203.8,313.6 204.1,306.1 204.4,299.0 204.8,290.1 205.3,279.9 205.7,271.5 206.2,268.0 206.5,269.9 206.9,274.0 207.2,278.2 207.6,280.1 207.9,278.6 208.3,275.4 208.7,272.2 209.0,270.7 209.6,273.9 210.1,281.5 210.6,290.7 211.1,299.0 211.5,306.4 211.9,314.4 212.3,320.8 212.7,323.4 213.2,316.4 213.7,301.1 214.2,285.8 214.6,278.8 215.0,287.2 215.2,305.8 215.5,324.4 215.9,332.8 216.4,325.0 217.0,307.8 217.6,290.6 218.1,282.8 218.5,286.9 218.8,296.7 219.1,308.3 219.5,318.0 219.8,324.0 220.1,330.2 220.5,335.0 220.8,336.9 221.2,332.7 221.5,323.4 221.8,314.1 222.2,309.9 222.5,313.3 222.9,320.7 223.2,328.1 223.5,331.5 223.8,325.4 224.0,311.9 224.4,298.5 224.9,292.3 225.3,294.0 225.8,297.7 226.3,301.4 226.8,303.1 227.4,299.3 227.9,290.9 228.4,282.6 228.9,278.8 229.3,281.6 229.6,287.6 229.9,293.6 230.3,296.4 230.8,293.0 231.3,285.5 231.9,278.1 232.4,274.7 232.9,278.7 233.3,288.1 233.7,298.9 234.3,307.2 234.7,310.4 235.3,313.4 235.8,315.7 236.2,316.6 236.7,313.4 237.0,306.5 237.4,299.6 237.8,296.4 238.2,297.4 238.7,299.7 239.0,302.0 239.2,303.1" stroke="#3a8ef0" stroke-width="1.1"/>
<polyline points="257.2,309.9 257.3,307.6 257.5,302.6 257.9,297.4 258.5,295.0 258.8,295.1 259.2,295.5 259.6,296.2 260.0,297.0 260.9,304.8 261.3,317.3 261.5,329.0 261.8,334.2 262.2,330.6 262.6,322.1 263.1,311.8 263.6,303.1 264.1,297.2 264.7,291.0 265.3,286.1 265.8,284.2 266.4,289.7 266.8,301.8 267.2,313.8 267.7,319.3 268.1,316.1 268.5,309.2 268.9,302.2 269.3,299.0 269.8,302.0 270.2,308.5 270.7,315.0 271.2,318.0 271.7,313.6 272.2,303.8 272.7,294.0 273.1,289.6 273.5,292.8 273.8,299.7 274.1,306.7 274.5,309.9 274.9,306.5 275.2,299.1 275.6,291.6 276.1,288.2 276.5,289.3 277.1,292.0 277.6,295.5 278.0,299.0 278.5,305.2 278.8,312.8 279.0,319.3 279.3,322.0 279.6,313.8 279.8,295.7 280.1,277.6 280.7,269.3 281.1,270.4 281.6,273.1 282.2,276.6 282.6,280.1 283.1,286.6 283.5,294.7 283.8,301.6 284.2,304.5 284.7,301.1 285.2,293.6 285.7,286.2 286.1,282.8 286.5,286.4 286.7,294.3 287.0,302.2 287.4,305.8 287.7,304.4 288.0,301.1 288.4,297.1 288.8,293.6 289.2,290.7 289.8,287.6 290.3,285.2 290.7,284.2 291.2,287.4 291.5,294.3 291.8,301.3 292.3,304.5 292.7,303.7 293.2,301.6 293.7,299.0 294.2,296.4 294.8,292.3 295.3,287.4 295.9,283.2 296.4,281.5 296.9,282.6 297.3,285.4 297.8,288.9 298.2,292.3 298.6,297.2 299.0,303.0 299.3,307.9 299.6,309.9 300.0,306.8 300.4,299.9 300.8,293.1 301.2,290.0 301.6,293.0 301.9,300.3 302.2,309.5 302.5,318.0 302.8,327.9 303.0,339.0 303.2,348.2 303.4,352.0 303.7,345.6 303.9,330.4 304.2,312.4 304.6,297.7 304.9,289.4 305.2,281.0 305.5,274.6 305.9,272.0 306.3,273.8 306.7,278.2 307.1,283.5 307.6,288.2 308.0,292.3 308.5,296.8 309.0,300.3 309.5,301.8 310.0,300.6 310.5,297.5 310.9,293.5 311.4,289.6 312.0,283.0 312.5,274.9 313.0,268.2 313.5,265.3 313.9,268.0 314.1,274.4 314.5,282.0 314.9,288.2 315.3,291.0 315.8,293.5 316.3,296.0 316.8,299.0 317.5,308.0 318.0,319.7 318.4,329.9 318.9,334.2 319.3,331.6 319.6,325.1 319.9,317.2 320.3,309.9 320.7,302.3 321.2,293.9 321.7,287.0 322.2,284.2 322.6,286.2 323.0,290.9 323.4,296.7 323.8,301.8 324.2,305.2 324.7,308.4 325.2,311.7 325.7,315.3 326.3,322.4 326.8,330.9 327.3,338.0 327.8,341.0 328.3,334.9 328.7,321.4 329.2,307.9 329.7,301.8 330.2,306.0 330.8,315.3 331.4,324.6 331.9,328.8 332.4,324.4 332.8,314.6 333.3,304.8 333.8,300.4 334.2,303.1 334.7,309.2 335.2,315.2 335.7,318.0 336.2,316.0 336.8,311.1 337.3,304.8 337.8,299.0 338.3,291.7 338.8,283.3 339.4,276.3 340.0,273.4 340.5,274.2 341.0,276.2 341.5,278.8 341.9,281.5 342.4,286.9 342.7,293.6 342.9,299.4 343.2,301.8 343.5,299.3 343.9,293.7 344.2,288.0 344.6,285.5 345.0,288.6 345.4,295.8 345.9,303.9 346.5,309.9 346.9,311.5 347.3,312.8 347.8,314.0 348.2,315.3 348.7,317.0 349.1,318.9 349.6,320.4 350.0,321.0 350.7,315.2 351.2,302.6 351.6,290.1 352.0,284.4 352.4,288.6 352.8,297.9 353.2,307.2 353.7,311.4 354.3,306.8 354.9,296.7 355.5,286.6 356.1,282.0 356.6,285.4 357.1,293.0 357.6,300.6 358.1,304.0 358.8,297.9 359.6,284.4 360.3,270.9 361.0,264.8 361.6,272.8 362.2,290.5 362.8,308.2 363.5,316.3 364.0,314.0 364.6,308.6 365.2,302.1 365.9,296.7 366.5,293.2 367.2,289.5 367.8,286.7 368.4,285.6 369.0,287.7 369.4,293.0 369.7,299.8 370.1,306.5 370.6,318.4 371.1,333.0 371.5,345.4 372.0,350.6 372.4,337.3 372.7,307.9 373.3,278.4 374.5,264.8 375.0,265.2 375.5,266.3 376.1,267.9 376.5,269.7 377.1,274.9 377.3,281.8 377.4,289.4 377.7,296.7 378.3,304.7 379.1,313.5 379.9,320.7 380.6,323.6 381.2,318.2 381.8,306.5 382.4,294.7 383.1,289.3 383.6,291.2 384.2,295.4 384.9,299.7 385.5,301.6 386.1,300.6 386.8,298.1 387.4,294.9 388.0,291.8 388.5,287.9 388.9,283.5 389.2,279.5 389.7,277.0 389.9,276.7 390.0,276.5 390.2,276.3 390.4,276.0 391.0,273.4 391.5,269.3 392.0,265.5 392.5,263.9 393.0,266.1 393.3,271.3 393.6,277.9 394.0,284.0 394.4,290.4 394.9,297.3 395.4,303.9 395.9,309.9 396.3,314.2 396.7,318.6 397.2,322.0 397.6,323.4 398.1,321.1 398.6,315.4 399.0,308.4 399.5,301.8 399.9,294.0 400.2,285.2 400.6,277.9 401.4,274.7 401.8,274.9 402.2,275.5 402.6,276.4 403.0,277.4 403.5,279.5 403.8,282.3 404.0,285.2 404.3,288.2 404.7,291.6 405.2,295.1 405.7,298.6 406.2,301.8 406.5,304.6 406.8,307.6 407.1,310.0 407.6,311.0 408.0,310.4 408.5,309.1 409.1,307.8 409.5,307.2 410.0,308.4 410.3,311.0 410.6,314.1 411.1,316.6 411.5,317.7 412.1,318.6 412.6,319.5 413.0,320.7 413.6,325.6 413.9,332.4 414.1,338.4 414.3,341.0 414.7,329.8 415.0,305.2 415.2,280.5 415.7,269.3 416.0,270.8 416.3,274.5 416.7,279.3 417.0,284.2 417.4,293.3 417.7,304.5 418.0,314.0 418.4,318.0 418.8,315.5 419.2,310.0 419.6,304.5 420.0,302.0 420.3,303.8 420.5,307.9 420.7,312.0 421.0,313.8 421.6,309.5 422.2,300.1 422.9,290.7 423.5,286.4 424.0,291.6 424.5,303.1 425.0,314.5 425.5,319.7 426.2,311.4 427.0,293.2 427.7,275.1 428.4,266.8 428.9,272.9 429.3,286.4 429.7,299.9 430.2,306.0 430.7,300.6 431.1,288.9 431.6,277.1 432.2,271.7 432.6,273.4 432.9,277.1 433.3,280.8 433.7,282.5 434.2,278.8 434.8,270.7 435.3,262.6 435.7,258.9 436.1,264.5 436.4,277.6 436.7,292.7 437.3,304.0 437.7,308.1 438.2,311.9 438.7,314.7 439.2,315.8 440.0,310.1 440.7,297.6 441.4,285.2 442.0,279.5 442.5,284.3 443.0,294.7 443.4,305.1 443.9,309.9 444.3,307.2 444.7,301.1 445.1,295.0 445.5,292.3 446.1,296.9 446.7,307.0 447.3,317.1 447.8,321.7 448.2,315.0 448.4,300.2 448.7,285.3 449.4,278.5 449.8,279.6 450.3,281.9 450.9,284.3 451.4,285.4 452.0,284.0 452.6,281.0 453.2,278.0 453.7,276.6 454.2,278.4 454.6,282.5 454.9,286.5 455.3,288.3 455.8,283.7 456.3,273.6 456.8,263.5 457.3,258.9 457.8,262.0 458.3,269.7 458.8,279.3 459.2,288.3 459.6,299.2 460.0,311.6 460.3,321.9 460.7,326.1 461.0,321.9 461.2,312.6 461.5,303.3 462.0,299.0 462.3,299.5 462.7,300.9 463.1,302.6 463.4,304.5 463.8,308.7 464.1,314.1 464.4,318.7 464.7,320.7 465.0,318.9 465.4,314.7 465.7,309.4 466.1,304.5 466.6,300.2 467.0,295.8 467.5,291.4 468.0,286.9 468.4,281.0 468.9,274.3 469.2,268.9 469.6,266.6 470.0,270.3 470.3,279.5 470.6,291.0 470.9,301.8 471.3,315.7 471.6,331.7 472.0,344.9 472.3,350.4 472.5,345.5 472.7,334.1 472.9,321.4 473.4,312.6 473.8,310.6 474.2,308.9 474.5,307.7 474.7,307.2" stroke="#3a8ef0" stroke-width="1.1"/>
<polyline points="71.3,290.4 71.8,293.1 72.3,296.3 72.8,298.4 73.3,299.3 73.8,299.6 74.3,299.7 74.8,299.7 75.3,299.7 75.8,299.5 76.3,299.0 76.8,297.9 77.3,296.4 77.8,295.4 78.3,295.5 78.8,296.7 79.3,298.1 79.8,299.1 80.3,299.5 80.8,299.7 81.3,299.7 81.8,299.7 82.3,299.7 82.8,299.7 83.3,299.7 83.8,299.7 84.3,299.7 84.8,299.7 85.3,299.6 85.8,299.3 86.3,298.4 86.8,296.4 87.3,293.8 87.8,291.9 88.3,292.1 88.8,294.3 89.3,296.9 89.8,298.6 90.3,299.4 90.8,299.6 91.3,299.6 91.8,299.5 92.3,299.0 92.8,297.9 93.3,296.4 93.8,295.4 94.3,295.5 94.8,296.7 95.3,298.1 95.8,299.1 96.3,299.5 96.8,299.7 97.3,299.7 97.8,299.7 98.3,299.7 98.8,299.7 99.3,299.7 99.8,299.7 100.3,299.7 100.8,299.7 101.3,299.7 101.8,299.7 102.3,299.7 102.8,299.7 103.3,299.7 103.8,299.7 104.3,299.7 104.8,299.7 105.3,299.7 105.8,299.7 106.3,299.7 106.8,299.7 107.3,299.6 107.8,299.4 108.3,298.7 108.8,297.1 109.3,295.1 109.8,293.6 110.3,293.8 110.8,295.5 111.3,297.5 111.8,298.9 112.3,299.5 112.8,299.7 113.3,299.7 113.8,299.7 114.3,299.7 114.8,299.7 115.3,299.7 115.8,299.7 116.3,299.7 116.8,299.7 117.3,299.7 117.8,299.7 118.3,299.7 118.8,299.7 119.3,299.6 119.8,299.2 120.3,297.9 120.8,295.3 121.3,291.8 121.8,289.3 122.3,289.6 122.8,292.5 123.3,295.9 123.8,298.3 124.3,299.3 124.8,299.6 125.3,299.7 125.8,299.7 126.3,299.7 126.8,299.7 127.3,299.7 127.8,299.7 128.3,299.6 128.8,299.4 129.3,298.8 129.8,297.5 130.3,295.8 130.8,294.5 131.3,294.6 131.8,296.1 132.3,297.8 132.8,299.0 133.3,299.5 133.8,299.7 134.3,299.7 134.8,299.7 135.3,299.7 135.8,299.7 136.3,299.7 136.8,299.7 137.3,299.6 137.8,299.0 138.3,297.5 138.8,294.2 139.3,289.8 139.8,286.7 140.3,287.1 140.8,290.7 141.3,295.0 141.8,297.9 142.3,299.2 142.8,299.6 143.3,299.7 143.8,299.7 144.3,299.7 144.8,299.7 145.3,299.7 145.8,299.7 146.3,299.7 146.8,299.7 147.3,299.7 147.8,299.7 148.3,299.7 148.8,299.7 149.3,299.7 149.8,299.5 150.3,299.1 150.8,298.2 151.3,297.1 151.8,296.2 152.3,296.3 152.8,297.3 153.3,298.4 153.8,299.2 154.3,299.6 154.8,299.7 155.3,299.7 155.8,299.7 156.3,299.7 156.8,299.7 157.3,299.7 157.8,299.7 158.3,299.7 158.8,299.7 159.3,299.7 159.8,299.7 160.3,299.7 160.8,299.7 161.3,299.7 161.8,299.7 162.3,299.7 162.8,299.7 163.3,299.7 163.8,299.7 164.3,299.7 164.8,299.7 165.3,299.7 165.8,299.7 166.3,299.7 166.8,299.7 167.3,299.7 167.8,299.7 168.3,299.7 168.8,299.7 169.3,299.7 169.8,299.7 170.3,299.7 170.8,299.7 171.3,299.4 171.8,298.6 172.3,296.6 172.8,293.0 173.3,289.0 173.8,287.2 174.3,289.0 174.8,293.0 175.3,296.6 175.8,298.6 176.3,299.4 176.8,299.7 177.3,299.7 177.8,299.7 178.3,299.7 178.8,299.7 179.3,299.7 179.8,299.7 180.3,299.7 180.8,299.7 181.3,299.7 181.8,299.7 182.3,299.7 182.8,299.7 183.3,299.7 183.8,299.7 184.3,299.7 184.8,299.7 185.3,299.7 185.8,299.7 186.3,299.7 186.8,299.7 187.3,299.6 187.8,299.3 188.3,298.2 188.8,296.0 189.3,293.1 189.8,291.0 190.3,291.3 190.8,293.7 191.3,296.6 191.8,298.5 192.3,299.4 192.8,299.6 193.3,299.7 193.8,299.7 194.3,299.7 194.8,299.7 195.3,299.7 195.8,299.7 196.3,299.7 196.8,299.7 197.3,299.7 197.8,299.7 198.3,299.7 198.8,299.7 199.3,299.7 199.8,299.7 200.3,299.7 200.8,299.7 201.3,299.7 201.8,299.7 202.3,299.7 202.8,299.7 203.3,299.6 203.8,299.2 204.3,297.9 204.8,295.3 205.3,291.8 205.8,289.3 206.3,289.6 206.8,292.5 207.3,295.9 207.8,298.3 208.3,299.3 208.8,299.6 209.3,299.7 209.8,299.7 210.3,299.7 210.8,299.7 211.3,299.7 211.8,299.7 212.3,299.7 212.8,299.7 213.3,299.7 213.8,299.7 214.3,299.7 214.8,299.7 215.3,299.7 215.8,299.7 216.3,299.7 216.8,299.7 217.3,299.7 217.8,299.7 218.3,299.7 218.8,299.7 219.3,299.7 219.8,299.7 220.3,299.6 220.8,299.1 221.3,297.6 221.8,294.6 222.3,290.5 222.8,287.5 223.3,287.9 223.8,291.3 224.3,295.3 224.8,298.0 225.3,299.2 225.8,299.6 226.3,299.7 226.8,299.7 227.3,299.7 227.8,299.7 228.3,299.7 228.8,299.7 229.3,299.7 229.8,299.7 230.3,299.7 230.8,299.7 231.3,299.7 231.8,299.7 232.3,299.7 232.8,299.7 233.3,299.7 233.8,299.7 234.3,299.7 234.8,299.7 235.3,299.7 235.8,299.5 236.3,298.8 236.8,296.8 237.3,293.0 237.8,288.3 238.3,285.5 238.8,286.8" stroke="#10e010" stroke-width="1.1"/>
<polyline points="257.2,299.7 257.7,299.7 258.2,299.7 258.7,299.7 259.2,299.7 259.7,299.7 260.2,299.7 260.7,299.7 261.2,299.7 261.7,299.7 262.2,299.7 262.7,299.7 263.2,299.7 263.7,299.7 264.2,299.7 264.7,299.7 265.2,299.7 265.7,299.7 266.2,299.7 266.7,299.7 267.2,299.7 267.7,299.7 268.2,299.6 268.7,299.3 269.2,298.1 269.7,295.6 270.2,291.9 270.7,288.8 271.2,288.4 271.7,291.1 272.2,294.9 272.7,297.8 273.2,299.1 273.7,299.6 274.2,299.7 274.7,299.7 275.2,299.7 275.7,299.7 276.2,299.7 276.7,299.7 277.2,299.7 277.7,299.7 278.2,299.7 278.7,299.7 279.2,299.7 279.7,299.7 280.2,299.7 280.7,299.7 281.2,299.7 281.7,299.7 282.2,299.7 282.7,299.7 283.2,299.7 283.7,299.7 284.2,299.6 284.7,299.3 285.2,298.3 285.7,295.9 286.2,292.5 286.7,289.6 287.2,289.3 287.7,291.8 288.2,295.3 288.7,297.9 289.2,299.2 289.7,299.6 290.2,299.7 290.7,299.7 291.2,299.7 291.7,299.7 292.2,299.7 292.7,299.7 293.2,299.7 293.7,299.7 294.2,299.7 294.7,299.7 295.2,299.7 295.7,299.7 296.2,299.7 296.7,299.7 297.2,299.7 297.7,299.7 298.2,299.7 298.7,299.7 299.2,299.7 299.7,299.7 300.2,299.6 300.7,299.2 301.2,298.0 301.7,295.3 302.2,291.3 302.7,287.9 303.2,287.5 303.7,290.5 304.2,294.6 304.7,297.6 305.2,299.1 305.7,299.6 306.2,299.7 306.7,299.7 307.2,299.7 307.7,299.7 308.2,299.7 308.7,299.7 309.2,299.7 309.7,299.7 310.2,299.7 310.7,299.7 311.2,299.7 311.7,299.7 312.2,299.7 312.7,299.7 313.2,299.7 313.7,299.7 314.2,299.7 314.7,299.6 315.2,299.4 315.7,298.5 316.2,296.2 316.7,292.7 317.2,289.2 317.7,288.2 318.2,290.4 318.7,294.2 319.2,297.3 319.7,298.9 320.2,299.5 320.7,299.7 321.2,299.7 321.7,299.7 322.2,299.7 322.7,299.7 323.2,299.7 323.7,299.7 324.2,299.7 324.7,299.7 325.2,299.7 325.7,299.7 326.2,299.7 326.7,299.7 327.2,299.7 327.7,299.7 328.2,299.7 328.7,299.7 329.2,299.7 329.7,299.7 330.2,299.7 330.7,299.7 331.2,299.5 331.7,299.1 332.2,297.7 332.7,295.1 333.2,291.9 333.7,290.0 334.2,290.8 334.7,293.8 335.2,296.8 335.7,298.6 336.2,299.4 336.7,299.6 337.2,299.7 337.7,299.7 338.2,299.7 338.7,299.7 339.2,299.7 339.7,299.7 340.2,299.7 340.7,299.7 341.2,299.7 341.7,299.7 342.2,299.7 342.7,299.7 343.2,299.7 343.7,299.7 344.2,299.7 344.7,299.7 345.2,299.7 345.7,299.7 346.2,299.7 346.7,299.7 347.2,299.7 347.7,299.7 348.2,299.7 348.7,299.7 349.2,299.7 349.7,299.7 350.2,299.7 350.7,299.7 351.2,299.7 351.7,299.7 352.2,299.7 352.7,299.7 353.2,299.7 353.7,299.7 354.2,299.7 354.7,299.7 355.2,299.7 355.7,299.7 356.2,299.7 356.7,299.7 357.2,299.7 357.7,299.7 358.2,299.7 358.7,299.7 359.2,299.7 359.7,299.7 360.2,299.7 360.7,299.7 361.2,299.7 361.7,299.5 362.2,299.0 362.7,297.8 363.2,296.1 363.7,294.6 364.2,294.5 364.7,295.8 365.2,297.5 365.7,298.8 366.2,299.4 366.7,299.6 367.2,299.7 367.7,299.7 368.2,299.7 368.7,299.7 369.2,299.7 369.7,299.7 370.2,299.7 370.7,299.7 371.2,299.7 371.7,299.7 372.2,299.7 372.7,299.7 373.2,299.7 373.7,299.7 374.2,299.7 374.7,299.6 375.2,299.4 375.7,298.8 376.2,297.5 376.7,295.8 377.2,294.5 377.7,294.6 378.2,296.1 378.7,297.8 379.2,299.0 379.7,299.5 380.2,299.7 380.7,299.7 381.2,299.7 381.7,299.7 382.2,299.7 382.7,299.7 383.2,299.7 383.7,299.7 384.2,299.7 384.7,299.7 385.2,299.7 385.7,299.7 386.2,299.7 386.7,299.7 387.2,299.7 387.7,299.7 388.2,299.7 388.7,299.7 389.2,299.7 389.7,299.7 390.2,299.7 390.7,299.7 391.2,299.7 391.7,299.7 392.2,299.7 392.7,299.7 393.2,299.7 393.7,299.7 394.2,299.7 394.7,299.7 395.2,299.7 395.7,299.7 396.2,299.7 396.7,299.7 397.2,299.7 397.7,299.7 398.2,299.7 398.7,299.7 399.2,299.7 399.7,299.7 400.2,299.7 400.7,299.7 401.2,299.7 401.7,299.7 402.2,299.7 402.7,299.7 403.2,299.7 403.7,299.7 404.2,299.7 404.7,299.7 405.2,299.7 405.7,299.7 406.2,299.7 406.7,299.5 407.2,299.0 407.7,297.8 408.2,296.1 408.7,294.6 409.2,294.5 409.7,295.8 410.2,297.5 410.7,298.8 411.2,299.4 411.7,299.4 412.2,298.7 412.7,297.2 413.2,294.9 413.7,293.0 414.2,292.8 414.7,294.4 415.2,296.8 415.7,298.5 416.2,299.3 416.7,299.6 417.2,299.7 417.7,299.7 418.2,299.7 418.7,299.7 419.2,299.7 419.7,299.7 420.2,299.7 420.7,299.7 421.2,299.7 421.7,299.7 422.2,299.7 422.7,299.7 423.2,299.7 423.7,299.7 424.2,299.7 424.7,299.7 425.2,299.7 425.7,299.7 426.2,299.7 426.7,299.7 427.2,299.7 427.7,299.7 428.2,299.7 428.7,299.7 429.2,299.7 429.7,299.7 430.2,299.7 430.7,299.5 431.2,298.9 431.7,297.5 432.2,295.5 432.7,293.8 433.2,293.6 433.7,295.1 434.2,297.1 434.7,298.7 435.2,299.4 435.7,299.6 436.2,299.7 436.7,299.7 437.2,299.7 437.7,299.7 438.2,299.7 438.7,299.7 439.2,299.7 439.7,299.7 440.2,299.7 440.7,299.7 441.2,299.7 441.7,299.7 442.2,299.7 442.7,299.7 443.2,299.7 443.7,299.7 444.2,299.7 444.7,299.7 445.2,299.7 445.7,299.7 446.2,299.7 446.7,299.7 447.2,299.7 447.7,299.7 448.2,299.7 448.7,299.5 449.2,299.0 449.7,297.8 450.2,296.1 450.7,294.6 451.2,294.5 451.7,295.8 452.2,297.5 452.7,298.8 453.2,299.4 453.7,299.6 454.2,299.7 454.7,299.7 455.2,299.7 455.7,299.7 456.2,299.7 456.7,299.7 457.2,299.7 457.7,299.7 458.2,299.7 458.7,299.7 459.2,299.7 459.7,299.5 460.2,299.0 460.7,297.8 461.2,296.1 461.7,294.6 462.2,294.5 462.7,295.8 463.2,297.5 463.7,298.8 464.2,299.4 464.7,299.6 465.2,299.7 465.7,299.7 466.2,299.7 466.7,299.7 467.2,299.7 467.7,299.7 468.2,299.7 468.7,299.7 469.2,299.7 469.7,299.7 470.2,299.6 470.7,299.3 471.2,298.6 471.7,297.2 472.2,295.4 472.7,294.4 473.2,294.9 473.7,296.5 474.2,298.1 474.7,299.1" stroke="#10e010" stroke-width="1.1"/>
<line x1="59.5" y1="299.7" x2="483.5" y2="299.7" stroke="#222" stroke-width="1.0" stroke-opacity="0.55"/>
</g>
<line x1="59.00" y1="53.40" x2="484.00" y2="53.40" stroke="#555" stroke-width="1.25"/>
<line x1="59.00" y1="164.00" x2="484.00" y2="164.00" stroke="#555" stroke-width="1.25"/>
<line x1="59.50" y1="53.40" x2="59.50" y2="164.00" stroke="#3a3a3a" stroke-width="1.00"/>
<line x1="483.50" y1="53.40" x2="483.50" y2="164.00" stroke="#3a3a3a" stroke-width="1.00"/>
<line x1="59.50" y1="53.40" x2="59.50" y2="49.20" stroke="#3a3a3a" stroke-width="1.00"/>
<line x1="59.50" y1="164.00" x2="59.50" y2="168.20" stroke="#3a3a3a" stroke-width="1.00"/>
<line x1="71.28" y1="53.40" x2="71.28" y2="49.20" stroke="#3a3a3a" stroke-width="1.00"/>
<line x1="71.28" y1="164.00" x2="71.28" y2="168.20" stroke="#3a3a3a" stroke-width="1.00"/>
<line x1="83.06" y1="53.40" x2="83.06" y2="49.20" stroke="#3a3a3a" stroke-width="1.00"/>
<line x1="83.06" y1="164.00" x2="83.06" y2="168.20" stroke="#3a3a3a" stroke-width="1.00"/>
<line x1="94.84" y1="53.40" x2="94.84" y2="49.20" stroke="#3a3a3a" stroke-width="1.00"/>
<line x1="94.84" y1="164.00" x2="94.84" y2="168.20" stroke="#3a3a3a" stroke-width="1.00"/>
<line x1="106.62" y1="53.40" x2="106.62" y2="49.20" stroke="#3a3a3a" stroke-width="1.00"/>
<line x1="106.62" y1="164.00" x2="106.62" y2="168.20" stroke="#3a3a3a" stroke-width="1.00"/>
<line x1="118.40" y1="53.40" x2="118.40" y2="49.20" stroke="#3a3a3a" stroke-width="1.00"/>
<line x1="118.40" y1="164.00" x2="118.40" y2="168.20" stroke="#3a3a3a" stroke-width="1.00"/>
<line x1="130.18" y1="53.40" x2="130.18" y2="45.40" stroke="#3a3a3a" stroke-width="1.00"/>
<line x1="130.18" y1="164.00" x2="130.18" y2="172.00" stroke="#3a3a3a" stroke-width="1.00"/>
<line x1="141.96" y1="53.40" x2="141.96" y2="49.20" stroke="#3a3a3a" stroke-width="1.00"/>
<line x1="141.96" y1="164.00" x2="141.96" y2="168.20" stroke="#3a3a3a" stroke-width="1.00"/>
<line x1="153.74" y1="53.40" x2="153.74" y2="49.20" stroke="#3a3a3a" stroke-width="1.00"/>
<line x1="153.74" y1="164.00" x2="153.74" y2="168.20" stroke="#3a3a3a" stroke-width="1.00"/>
<line x1="165.52" y1="53.40" x2="165.52" y2="49.20" stroke="#3a3a3a" stroke-width="1.00"/>
<line x1="165.52" y1="164.00" x2="165.52" y2="168.20" stroke="#3a3a3a" stroke-width="1.00"/>
<line x1="177.30" y1="53.40" x2="177.30" y2="49.20" stroke="#3a3a3a" stroke-width="1.00"/>
<line x1="177.30" y1="164.00" x2="177.30" y2="168.20" stroke="#3a3a3a" stroke-width="1.00"/>
<line x1="189.08" y1="53.40" x2="189.08" y2="49.20" stroke="#3a3a3a" stroke-width="1.00"/>
<line x1="189.08" y1="164.00" x2="189.08" y2="168.20" stroke="#3a3a3a" stroke-width="1.00"/>
<line x1="200.86" y1="53.40" x2="200.86" y2="49.20" stroke="#3a3a3a" stroke-width="1.00"/>
<line x1="200.86" y1="164.00" x2="200.86" y2="168.20" stroke="#3a3a3a" stroke-width="1.00"/>
<line x1="212.64" y1="53.40" x2="212.64" y2="49.20" stroke="#3a3a3a" stroke-width="1.00"/>
<line x1="212.64" y1="164.00" x2="212.64" y2="168.20" stroke="#3a3a3a" stroke-width="1.00"/>
<line x1="224.42" y1="53.40" x2="224.42" y2="49.20" stroke="#3a3a3a" stroke-width="1.00"/>
<line x1="224.42" y1="164.00" x2="224.42" y2="168.20" stroke="#3a3a3a" stroke-width="1.00"/>
<line x1="236.20" y1="53.40" x2="236.20" y2="49.20" stroke="#3a3a3a" stroke-width="1.00"/>
<line x1="236.20" y1="164.00" x2="236.20" y2="168.20" stroke="#3a3a3a" stroke-width="1.00"/>
<line x1="247.98" y1="53.40" x2="247.98" y2="45.40" stroke="#3a3a3a" stroke-width="1.00"/>
<line x1="247.98" y1="164.00" x2="247.98" y2="172.00" stroke="#3a3a3a" stroke-width="1.00"/>
<line x1="259.76" y1="53.40" x2="259.76" y2="49.20" stroke="#3a3a3a" stroke-width="1.00"/>
<line x1="259.76" y1="164.00" x2="259.76" y2="168.20" stroke="#3a3a3a" stroke-width="1.00"/>
<line x1="271.54" y1="53.40" x2="271.54" y2="49.20" stroke="#3a3a3a" stroke-width="1.00"/>
<line x1="271.54" y1="164.00" x2="271.54" y2="168.20" stroke="#3a3a3a" stroke-width="1.00"/>
<line x1="283.32" y1="53.40" x2="283.32" y2="49.20" stroke="#3a3a3a" stroke-width="1.00"/>
<line x1="283.32" y1="164.00" x2="283.32" y2="168.20" stroke="#3a3a3a" stroke-width="1.00"/>
<line x1="295.10" y1="53.40" x2="295.10" y2="49.20" stroke="#3a3a3a" stroke-width="1.00"/>
<line x1="295.10" y1="164.00" x2="295.10" y2="168.20" stroke="#3a3a3a" stroke-width="1.00"/>
<line x1="306.88" y1="53.40" x2="306.88" y2="49.20" stroke="#3a3a3a" stroke-width="1.00"/>
<line x1="306.88" y1="164.00" x2="306.88" y2="168.20" stroke="#3a3a3a" stroke-width="1.00"/>
<line x1="318.66" y1="53.40" x2="318.66" y2="49.20" stroke="#3a3a3a" stroke-width="1.00"/>
<line x1="318.66" y1="164.00" x2="318.66" y2="168.20" stroke="#3a3a3a" stroke-width="1.00"/>
<line x1="330.44" y1="53.40" x2="330.44" y2="49.20" stroke="#3a3a3a" stroke-width="1.00"/>
<line x1="330.44" y1="164.00" x2="330.44" y2="168.20" stroke="#3a3a3a" stroke-width="1.00"/>
<line x1="342.22" y1="53.40" x2="342.22" y2="49.20" stroke="#3a3a3a" stroke-width="1.00"/>
<line x1="342.22" y1="164.00" x2="342.22" y2="168.20" stroke="#3a3a3a" stroke-width="1.00"/>
<line x1="354.00" y1="53.40" x2="354.00" y2="49.20" stroke="#3a3a3a" stroke-width="1.00"/>
<line x1="354.00" y1="164.00" x2="354.00" y2="168.20" stroke="#3a3a3a" stroke-width="1.00"/>
<line x1="365.78" y1="53.40" x2="365.78" y2="45.40" stroke="#3a3a3a" stroke-width="1.00"/>
<line x1="365.78" y1="164.00" x2="365.78" y2="172.00" stroke="#3a3a3a" stroke-width="1.00"/>
<line x1="377.56" y1="53.40" x2="377.56" y2="49.20" stroke="#3a3a3a" stroke-width="1.00"/>
<line x1="377.56" y1="164.00" x2="377.56" y2="168.20" stroke="#3a3a3a" stroke-width="1.00"/>
<line x1="389.34" y1="53.40" x2="389.34" y2="49.20" stroke="#3a3a3a" stroke-width="1.00"/>
<line x1="389.34" y1="164.00" x2="389.34" y2="168.20" stroke="#3a3a3a" stroke-width="1.00"/>
<line x1="401.12" y1="53.40" x2="401.12" y2="49.20" stroke="#3a3a3a" stroke-width="1.00"/>
<line x1="401.12" y1="164.00" x2="401.12" y2="168.20" stroke="#3a3a3a" stroke-width="1.00"/>
<line x1="412.90" y1="53.40" x2="412.90" y2="49.20" stroke="#3a3a3a" stroke-width="1.00"/>
<line x1="412.90" y1="164.00" x2="412.90" y2="168.20" stroke="#3a3a3a" stroke-width="1.00"/>
<line x1="424.68" y1="53.40" x2="424.68" y2="49.20" stroke="#3a3a3a" stroke-width="1.00"/>
<line x1="424.68" y1="164.00" x2="424.68" y2="168.20" stroke="#3a3a3a" stroke-width="1.00"/>
<line x1="436.46" y1="53.40" x2="436.46" y2="49.20" stroke="#3a3a3a" stroke-width="1.00"/>
<line x1="436.46" y1="164.00" x2="436.46" y2="168.20" stroke="#3a3a3a" stroke-width="1.00"/>
<line x1="448.24" y1="53.40" x2="448.24" y2="49.20" stroke="#3a3a3a" stroke-width="1.00"/>
<line x1="448.24" y1="164.00" x2="448.24" y2="168.20" stroke="#3a3a3a" stroke-width="1.00"/>
<line x1="460.02" y1="53.40" x2="460.02" y2="49.20" stroke="#3a3a3a" stroke-width="1.00"/>
<line x1="460.02" y1="164.00" x2="460.02" y2="168.20" stroke="#3a3a3a" stroke-width="1.00"/>
<line x1="471.80" y1="53.40" x2="471.80" y2="49.20" stroke="#3a3a3a" stroke-width="1.00"/>
<line x1="471.80" y1="164.00" x2="471.80" y2="168.20" stroke="#3a3a3a" stroke-width="1.00"/>
<line x1="483.58" y1="53.40" x2="483.58" y2="45.40" stroke="#3a3a3a" stroke-width="1.00"/>
<line x1="483.58" y1="164.00" x2="483.58" y2="172.00" stroke="#3a3a3a" stroke-width="1.00"/>
<line x1="59.50" y1="158.70" x2="67.50" y2="158.70" stroke="#3a3a3a" stroke-width="1.00"/>
<line x1="483.50" y1="158.70" x2="475.50" y2="158.70" stroke="#3a3a3a" stroke-width="1.00"/>
<line x1="59.50" y1="152.91" x2="63.50" y2="152.91" stroke="#3a3a3a" stroke-width="1.00"/>
<line x1="483.50" y1="152.91" x2="479.50" y2="152.91" stroke="#3a3a3a" stroke-width="1.00"/>
<line x1="59.50" y1="147.11" x2="63.50" y2="147.11" stroke="#3a3a3a" stroke-width="1.00"/>
<line x1="483.50" y1="147.11" x2="479.50" y2="147.11" stroke="#3a3a3a" stroke-width="1.00"/>
<line x1="59.50" y1="141.32" x2="63.50" y2="141.32" stroke="#3a3a3a" stroke-width="1.00"/>
<line x1="483.50" y1="141.32" x2="479.50" y2="141.32" stroke="#3a3a3a" stroke-width="1.00"/>
<line x1="59.50" y1="135.53" x2="63.50" y2="135.53" stroke="#3a3a3a" stroke-width="1.00"/>
<line x1="483.50" y1="135.53" x2="479.50" y2="135.53" stroke="#3a3a3a" stroke-width="1.00"/>
<line x1="59.50" y1="129.73" x2="67.50" y2="129.73" stroke="#3a3a3a" stroke-width="1.00"/>
<line x1="483.50" y1="129.73" x2="475.50" y2="129.73" stroke="#3a3a3a" stroke-width="1.00"/>
<line x1="59.50" y1="123.94" x2="63.50" y2="123.94" stroke="#3a3a3a" stroke-width="1.00"/>
<line x1="483.50" y1="123.94" x2="479.50" y2="123.94" stroke="#3a3a3a" stroke-width="1.00"/>
<line x1="59.50" y1="118.15" x2="63.50" y2="118.15" stroke="#3a3a3a" stroke-width="1.00"/>
<line x1="483.50" y1="118.15" x2="479.50" y2="118.15" stroke="#3a3a3a" stroke-width="1.00"/>
<line x1="59.50" y1="112.36" x2="63.50" y2="112.36" stroke="#3a3a3a" stroke-width="1.00"/>
<line x1="483.50" y1="112.36" x2="479.50" y2="112.36" stroke="#3a3a3a" stroke-width="1.00"/>
<line x1="59.50" y1="106.56" x2="63.50" y2="106.56" stroke="#3a3a3a" stroke-width="1.00"/>
<line x1="483.50" y1="106.56" x2="479.50" y2="106.56" stroke="#3a3a3a" stroke-width="1.00"/>
<line x1="59.50" y1="100.77" x2="67.50" y2="100.77" stroke="#3a3a3a" stroke-width="1.00"/>
<line x1="483.50" y1="100.77" x2="475.50" y2="100.77" stroke="#3a3a3a" stroke-width="1.00"/>
<line x1="59.50" y1="94.98" x2="63.50" y2="94.98" stroke="#3a3a3a" stroke-width="1.00"/>
<line x1="483.50" y1="94.98" x2="479.50" y2="94.98" stroke="#3a3a3a" stroke-width="1.00"/>
<line x1="59.50" y1="89.18" x2="63.50" y2="89.18" stroke="#3a3a3a" stroke-width="1.00"/>
<line x1="483.50" y1="89.18" x2="479.50" y2="89.18" stroke="#3a3a3a" stroke-width="1.00"/>
<line x1="59.50" y1="83.39" x2="63.50" y2="83.39" stroke="#3a3a3a" stroke-width="1.00"/>
<line x1="483.50" y1="83.39" x2="479.50" y2="83.39" stroke="#3a3a3a" stroke-width="1.00"/>
<line x1="59.50" y1="77.60" x2="63.50" y2="77.60" stroke="#3a3a3a" stroke-width="1.00"/>
<line x1="483.50" y1="77.60" x2="479.50" y2="77.60" stroke="#3a3a3a" stroke-width="1.00"/>
<line x1="59.50" y1="71.80" x2="67.50" y2="71.80" stroke="#3a3a3a" stroke-width="1.00"/>
<line x1="483.50" y1="71.80" x2="475.50" y2="71.80" stroke="#3a3a3a" stroke-width="1.00"/>
<line x1="59.50" y1="66.01" x2="63.50" y2="66.01" stroke="#3a3a3a" stroke-width="1.00"/>
<line x1="483.50" y1="66.01" x2="479.50" y2="66.01" stroke="#3a3a3a" stroke-width="1.00"/>
<line x1="59.50" y1="60.22" x2="63.50" y2="60.22" stroke="#3a3a3a" stroke-width="1.00"/>
<line x1="483.50" y1="60.22" x2="479.50" y2="60.22" stroke="#3a3a3a" stroke-width="1.00"/>
<line x1="59.50" y1="54.43" x2="63.50" y2="54.43" stroke="#3a3a3a" stroke-width="1.00"/>
<line x1="483.50" y1="54.43" x2="479.50" y2="54.43" stroke="#3a3a3a" stroke-width="1.00"/>
<line x1="59.00" y1="245.30" x2="484.00" y2="245.30" stroke="#555" stroke-width="1.25"/>
<line x1="59.00" y1="355.40" x2="484.00" y2="355.40" stroke="#555" stroke-width="1.25"/>
<line x1="59.50" y1="245.30" x2="59.50" y2="355.40" stroke="#3a3a3a" stroke-width="1.00"/>
<line x1="483.50" y1="245.30" x2="483.50" y2="355.40" stroke="#3a3a3a" stroke-width="1.00"/>
<line x1="59.50" y1="245.30" x2="59.50" y2="241.10" stroke="#3a3a3a" stroke-width="1.00"/>
<line x1="59.50" y1="355.40" x2="59.50" y2="359.60" stroke="#3a3a3a" stroke-width="1.00"/>
<line x1="71.28" y1="245.30" x2="71.28" y2="241.10" stroke="#3a3a3a" stroke-width="1.00"/>
<line x1="71.28" y1="355.40" x2="71.28" y2="359.60" stroke="#3a3a3a" stroke-width="1.00"/>
<line x1="83.06" y1="245.30" x2="83.06" y2="241.10" stroke="#3a3a3a" stroke-width="1.00"/>
<line x1="83.06" y1="355.40" x2="83.06" y2="359.60" stroke="#3a3a3a" stroke-width="1.00"/>
<line x1="94.84" y1="245.30" x2="94.84" y2="241.10" stroke="#3a3a3a" stroke-width="1.00"/>
<line x1="94.84" y1="355.40" x2="94.84" y2="359.60" stroke="#3a3a3a" stroke-width="1.00"/>
<line x1="106.62" y1="245.30" x2="106.62" y2="241.10" stroke="#3a3a3a" stroke-width="1.00"/>
<line x1="106.62" y1="355.40" x2="106.62" y2="359.60" stroke="#3a3a3a" stroke-width="1.00"/>
<line x1="118.40" y1="245.30" x2="118.40" y2="241.10" stroke="#3a3a3a" stroke-width="1.00"/>
<line x1="118.40" y1="355.40" x2="118.40" y2="359.60" stroke="#3a3a3a" stroke-width="1.00"/>
<line x1="130.18" y1="245.30" x2="130.18" y2="237.30" stroke="#3a3a3a" stroke-width="1.00"/>
<line x1="130.18" y1="355.40" x2="130.18" y2="363.40" stroke="#3a3a3a" stroke-width="1.00"/>
<line x1="141.96" y1="245.30" x2="141.96" y2="241.10" stroke="#3a3a3a" stroke-width="1.00"/>
<line x1="141.96" y1="355.40" x2="141.96" y2="359.60" stroke="#3a3a3a" stroke-width="1.00"/>
<line x1="153.74" y1="245.30" x2="153.74" y2="241.10" stroke="#3a3a3a" stroke-width="1.00"/>
<line x1="153.74" y1="355.40" x2="153.74" y2="359.60" stroke="#3a3a3a" stroke-width="1.00"/>
<line x1="165.52" y1="245.30" x2="165.52" y2="241.10" stroke="#3a3a3a" stroke-width="1.00"/>
<line x1="165.52" y1="355.40" x2="165.52" y2="359.60" stroke="#3a3a3a" stroke-width="1.00"/>
<line x1="177.30" y1="245.30" x2="177.30" y2="241.10" stroke="#3a3a3a" stroke-width="1.00"/>
<line x1="177.30" y1="355.40" x2="177.30" y2="359.60" stroke="#3a3a3a" stroke-width="1.00"/>
<line x1="189.08" y1="245.30" x2="189.08" y2="241.10" stroke="#3a3a3a" stroke-width="1.00"/>
<line x1="189.08" y1="355.40" x2="189.08" y2="359.60" stroke="#3a3a3a" stroke-width="1.00"/>
<line x1="200.86" y1="245.30" x2="200.86" y2="241.10" stroke="#3a3a3a" stroke-width="1.00"/>
<line x1="200.86" y1="355.40" x2="200.86" y2="359.60" stroke="#3a3a3a" stroke-width="1.00"/>
<line x1="212.64" y1="245.30" x2="212.64" y2="241.10" stroke="#3a3a3a" stroke-width="1.00"/>
<line x1="212.64" y1="355.40" x2="212.64" y2="359.60" stroke="#3a3a3a" stroke-width="1.00"/>
<line x1="224.42" y1="245.30" x2="224.42" y2="241.10" stroke="#3a3a3a" stroke-width="1.00"/>
<line x1="224.42" y1="355.40" x2="224.42" y2="359.60" stroke="#3a3a3a" stroke-width="1.00"/>
<line x1="236.20" y1="245.30" x2="236.20" y2="241.10" stroke="#3a3a3a" stroke-width="1.00"/>
<line x1="236.20" y1="355.40" x2="236.20" y2="359.60" stroke="#3a3a3a" stroke-width="1.00"/>
<line x1="247.98" y1="245.30" x2="247.98" y2="237.30" stroke="#3a3a3a" stroke-width="1.00"/>
<line x1="247.98" y1="355.40" x2="247.98" y2="363.40" stroke="#3a3a3a" stroke-width="1.00"/>
<line x1="259.76" y1="245.30" x2="259.76" y2="241.10" stroke="#3a3a3a" stroke-width="1.00"/>
<line x1="259.76" y1="355.40" x2="259.76" y2="359.60" stroke="#3a3a3a" stroke-width="1.00"/>
<line x1="271.54" y1="245.30" x2="271.54" y2="241.10" stroke="#3a3a3a" stroke-width="1.00"/>
<line x1="271.54" y1="355.40" x2="271.54" y2="359.60" stroke="#3a3a3a" stroke-width="1.00"/>
<line x1="283.32" y1="245.30" x2="283.32" y2="241.10" stroke="#3a3a3a" stroke-width="1.00"/>
<line x1="283.32" y1="355.40" x2="283.32" y2="359.60" stroke="#3a3a3a" stroke-width="1.00"/>
<line x1="295.10" y1="245.30" x2="295.10" y2="241.10" stroke="#3a3a3a" stroke-width="1.00"/>
<line x1="295.10" y1="355.40" x2="295.10" y2="359.60" stroke="#3a3a3a" stroke-width="1.00"/>
<line x1="306.88" y1="245.30" x2="306.88" y2="241.10" stroke="#3a3a3a" stroke-width="1.00"/>
<line x1="306.88" y1="355.40" x2="306.88" y2="359.60" stroke="#3a3a3a" stroke-width="1.00"/>
<line x1="318.66" y1="245.30" x2="318.66" y2="241.10" stroke="#3a3a3a" stroke-width="1.00"/>
<line x1="318.66" y1="355.40" x2="318.66" y2="359.60" stroke="#3a3a3a" stroke-width="1.00"/>
<line x1="330.44" y1="245.30" x2="330.44" y2="241.10" stroke="#3a3a3a" stroke-width="1.00"/>
<line x1="330.44" y1="355.40" x2="330.44" y2="359.60" stroke="#3a3a3a" stroke-width="1.00"/>
<line x1="342.22" y1="245.30" x2="342.22" y2="241.10" stroke="#3a3a3a" stroke-width="1.00"/>
<line x1="342.22" y1="355.40" x2="342.22" y2="359.60" stroke="#3a3a3a" stroke-width="1.00"/>
<line x1="354.00" y1="245.30" x2="354.00" y2="241.10" stroke="#3a3a3a" stroke-width="1.00"/>
<line x1="354.00" y1="355.40" x2="354.00" y2="359.60" stroke="#3a3a3a" stroke-width="1.00"/>
<line x1="365.78" y1="245.30" x2="365.78" y2="237.30" stroke="#3a3a3a" stroke-width="1.00"/>
<line x1="365.78" y1="355.40" x2="365.78" y2="363.40" stroke="#3a3a3a" stroke-width="1.00"/>
<line x1="377.56" y1="245.30" x2="377.56" y2="241.10" stroke="#3a3a3a" stroke-width="1.00"/>
<line x1="377.56" y1="355.40" x2="377.56" y2="359.60" stroke="#3a3a3a" stroke-width="1.00"/>
<line x1="389.34" y1="245.30" x2="389.34" y2="241.10" stroke="#3a3a3a" stroke-width="1.00"/>
<line x1="389.34" y1="355.40" x2="389.34" y2="359.60" stroke="#3a3a3a" stroke-width="1.00"/>
<line x1="401.12" y1="245.30" x2="401.12" y2="241.10" stroke="#3a3a3a" stroke-width="1.00"/>
<line x1="401.12" y1="355.40" x2="401.12" y2="359.60" stroke="#3a3a3a" stroke-width="1.00"/>
<line x1="412.90" y1="245.30" x2="412.90" y2="241.10" stroke="#3a3a3a" stroke-width="1.00"/>
<line x1="412.90" y1="355.40" x2="412.90" y2="359.60" stroke="#3a3a3a" stroke-width="1.00"/>
<line x1="424.68" y1="245.30" x2="424.68" y2="241.10" stroke="#3a3a3a" stroke-width="1.00"/>
<line x1="424.68" y1="355.40" x2="424.68" y2="359.60" stroke="#3a3a3a" stroke-width="1.00"/>
<line x1="436.46" y1="245.30" x2="436.46" y2="241.10" stroke="#3a3a3a" stroke-width="1.00"/>
<line x1="436.46" y1="355.40" x2="436.46" y2="359.60" stroke="#3a3a3a" stroke-width="1.00"/>
<line x1="448.24" y1="245.30" x2="448.24" y2="241.10" stroke="#3a3a3a" stroke-width="1.00"/>
<line x1="448.24" y1="355.40" x2="448.24" y2="359.60" stroke="#3a3a3a" stroke-width="1.00"/>
<line x1="460.02" y1="245.30" x2="460.02" y2="241.10" stroke="#3a3a3a" stroke-width="1.00"/>
<line x1="460.02" y1="355.40" x2="460.02" y2="359.60" stroke="#3a3a3a" stroke-width="1.00"/>
<line x1="471.80" y1="245.30" x2="471.80" y2="241.10" stroke="#3a3a3a" stroke-width="1.00"/>
<line x1="471.80" y1="355.40" x2="471.80" y2="359.60" stroke="#3a3a3a" stroke-width="1.00"/>
<line x1="483.58" y1="245.30" x2="483.58" y2="237.30" stroke="#3a3a3a" stroke-width="1.00"/>
<line x1="483.58" y1="355.40" x2="483.58" y2="363.40" stroke="#3a3a3a" stroke-width="1.00"/>
<line x1="59.50" y1="353.10" x2="67.50" y2="353.10" stroke="#3a3a3a" stroke-width="1.00"/>
<line x1="483.50" y1="353.10" x2="475.50" y2="353.10" stroke="#3a3a3a" stroke-width="1.00"/>
<line x1="59.50" y1="349.54" x2="63.50" y2="349.54" stroke="#3a3a3a" stroke-width="1.00"/>
<line x1="483.50" y1="349.54" x2="479.50" y2="349.54" stroke="#3a3a3a" stroke-width="1.00"/>
<line x1="59.50" y1="345.98" x2="63.50" y2="345.98" stroke="#3a3a3a" stroke-width="1.00"/>
<line x1="483.50" y1="345.98" x2="479.50" y2="345.98" stroke="#3a3a3a" stroke-width="1.00"/>
<line x1="59.50" y1="342.42" x2="63.50" y2="342.42" stroke="#3a3a3a" stroke-width="1.00"/>
<line x1="483.50" y1="342.42" x2="479.50" y2="342.42" stroke="#3a3a3a" stroke-width="1.00"/>
<line x1="59.50" y1="338.86" x2="63.50" y2="338.86" stroke="#3a3a3a" stroke-width="1.00"/>
<line x1="483.50" y1="338.86" x2="479.50" y2="338.86" stroke="#3a3a3a" stroke-width="1.00"/>
<line x1="59.50" y1="335.30" x2="67.50" y2="335.30" stroke="#3a3a3a" stroke-width="1.00"/>
<line x1="483.50" y1="335.30" x2="475.50" y2="335.30" stroke="#3a3a3a" stroke-width="1.00"/>
<line x1="59.50" y1="331.74" x2="63.50" y2="331.74" stroke="#3a3a3a" stroke-width="1.00"/>
<line x1="483.50" y1="331.74" x2="479.50" y2="331.74" stroke="#3a3a3a" stroke-width="1.00"/>
<line x1="59.50" y1="328.18" x2="63.50" y2="328.18" stroke="#3a3a3a" stroke-width="1.00"/>
<line x1="483.50" y1="328.18" x2="479.50" y2="328.18" stroke="#3a3a3a" stroke-width="1.00"/>
<line x1="59.50" y1="324.62" x2="63.50" y2="324.62" stroke="#3a3a3a" stroke-width="1.00"/>
<line x1="483.50" y1="324.62" x2="479.50" y2="324.62" stroke="#3a3a3a" stroke-width="1.00"/>
<line x1="59.50" y1="321.06" x2="63.50" y2="321.06" stroke="#3a3a3a" stroke-width="1.00"/>
<line x1="483.50" y1="321.06" x2="479.50" y2="321.06" stroke="#3a3a3a" stroke-width="1.00"/>
<line x1="59.50" y1="317.50" x2="67.50" y2="317.50" stroke="#3a3a3a" stroke-width="1.00"/>
<line x1="483.50" y1="317.50" x2="475.50" y2="317.50" stroke="#3a3a3a" stroke-width="1.00"/>
<line x1="59.50" y1="313.94" x2="63.50" y2="313.94" stroke="#3a3a3a" stroke-width="1.00"/>
<line x1="483.50" y1="313.94" x2="479.50" y2="313.94" stroke="#3a3a3a" stroke-width="1.00"/>
<line x1="59.50" y1="310.38" x2="63.50" y2="310.38" stroke="#3a3a3a" stroke-width="1.00"/>
<line x1="483.50" y1="310.38" x2="479.50" y2="310.38" stroke="#3a3a3a" stroke-width="1.00"/>
<line x1="59.50" y1="306.82" x2="63.50" y2="306.82" stroke="#3a3a3a" stroke-width="1.00"/>
<line x1="483.50" y1="306.82" x2="479.50" y2="306.82" stroke="#3a3a3a" stroke-width="1.00"/>
<line x1="59.50" y1="303.26" x2="63.50" y2="303.26" stroke="#3a3a3a" stroke-width="1.00"/>
<line x1="483.50" y1="303.26" x2="479.50" y2="303.26" stroke="#3a3a3a" stroke-width="1.00"/>
<line x1="59.50" y1="299.70" x2="67.50" y2="299.70" stroke="#3a3a3a" stroke-width="1.00"/>
<line x1="483.50" y1="299.70" x2="475.50" y2="299.70" stroke="#3a3a3a" stroke-width="1.00"/>
<line x1="59.50" y1="296.14" x2="63.50" y2="296.14" stroke="#3a3a3a" stroke-width="1.00"/>
<line x1="483.50" y1="296.14" x2="479.50" y2="296.14" stroke="#3a3a3a" stroke-width="1.00"/>
<line x1="59.50" y1="292.58" x2="63.50" y2="292.58" stroke="#3a3a3a" stroke-width="1.00"/>
<line x1="483.50" y1="292.58" x2="479.50" y2="292.58" stroke="#3a3a3a" stroke-width="1.00"/>
<line x1="59.50" y1="289.02" x2="63.50" y2="289.02" stroke="#3a3a3a" stroke-width="1.00"/>
<line x1="483.50" y1="289.02" x2="479.50" y2="289.02" stroke="#3a3a3a" stroke-width="1.00"/>
<line x1="59.50" y1="285.46" x2="63.50" y2="285.46" stroke="#3a3a3a" stroke-width="1.00"/>
<line x1="483.50" y1="285.46" x2="479.50" y2="285.46" stroke="#3a3a3a" stroke-width="1.00"/>
<line x1="59.50" y1="281.90" x2="67.50" y2="281.90" stroke="#3a3a3a" stroke-width="1.00"/>
<line x1="483.50" y1="281.90" x2="475.50" y2="281.90" stroke="#3a3a3a" stroke-width="1.00"/>
<line x1="59.50" y1="278.34" x2="63.50" y2="278.34" stroke="#3a3a3a" stroke-width="1.00"/>
<line x1="483.50" y1="278.34" x2="479.50" y2="278.34" stroke="#3a3a3a" stroke-width="1.00"/>
<line x1="59.50" y1="274.78" x2="63.50" y2="274.78" stroke="#3a3a3a" stroke-width="1.00"/>
<line x1="483.50" y1="274.78" x2="479.50" y2="274.78" stroke="#3a3a3a" stroke-width="1.00"/>
<line x1="59.50" y1="271.22" x2="63.50" y2="271.22" stroke="#3a3a3a" stroke-width="1.00"/>
<line x1="483.50" y1="271.22" x2="479.50" y2="271.22" stroke="#3a3a3a" stroke-width="1.00"/>
<line x1="59.50" y1="267.66" x2="63.50" y2="267.66" stroke="#3a3a3a" stroke-width="1.00"/>
<line x1="483.50" y1="267.66" x2="479.50" y2="267.66" stroke="#3a3a3a" stroke-width="1.00"/>
<line x1="59.50" y1="264.10" x2="67.50" y2="264.10" stroke="#3a3a3a" stroke-width="1.00"/>
<line x1="483.50" y1="264.10" x2="475.50" y2="264.10" stroke="#3a3a3a" stroke-width="1.00"/>
<line x1="59.50" y1="260.54" x2="63.50" y2="260.54" stroke="#3a3a3a" stroke-width="1.00"/>
<line x1="483.50" y1="260.54" x2="479.50" y2="260.54" stroke="#3a3a3a" stroke-width="1.00"/>
<line x1="59.50" y1="256.98" x2="63.50" y2="256.98" stroke="#3a3a3a" stroke-width="1.00"/>
<line x1="483.50" y1="256.98" x2="479.50" y2="256.98" stroke="#3a3a3a" stroke-width="1.00"/>
<line x1="59.50" y1="253.42" x2="63.50" y2="253.42" stroke="#3a3a3a" stroke-width="1.00"/>
<line x1="483.50" y1="253.42" x2="479.50" y2="253.42" stroke="#3a3a3a" stroke-width="1.00"/>
<line x1="59.50" y1="249.86" x2="63.50" y2="249.86" stroke="#3a3a3a" stroke-width="1.00"/>
<line x1="483.50" y1="249.86" x2="479.50" y2="249.86" stroke="#3a3a3a" stroke-width="1.00"/>
<line x1="59.50" y1="246.30" x2="67.50" y2="246.30" stroke="#3a3a3a" stroke-width="1.00"/>
<line x1="483.50" y1="246.30" x2="475.50" y2="246.30" stroke="#3a3a3a" stroke-width="1.00"/>
<text x="58.8" y="45.6" font-size="21.5" fill="#111" text-anchor="start" font-family="Liberation Serif, serif" textLength="21.2" lengthAdjust="spacingAndGlyphs" >(a)</text>
<text x="156.7" y="45.8" font-size="21.3" fill="#111" text-anchor="start" font-family="Liberation Serif, serif" textLength="228.6" lengthAdjust="spacingAndGlyphs" >Retrieval of Antarctic ClO</text>
<text x="56.3" y="77.9" font-size="16.8" fill="#111" text-anchor="end" font-family="Liberation Serif, serif" textLength="25.7" lengthAdjust="spacingAndGlyphs" >150</text>
<text x="56.3" y="106.7" font-size="16.8" fill="#111" text-anchor="end" font-family="Liberation Serif, serif" textLength="25.7" lengthAdjust="spacingAndGlyphs" >100</text>
<text x="56.3" y="135.4" font-size="16.8" fill="#111" text-anchor="end" font-family="Liberation Serif, serif" textLength="17.1" lengthAdjust="spacingAndGlyphs" >50</text>
<text x="56.3" y="164.1" font-size="16.8" fill="#111" text-anchor="end" font-family="Liberation Serif, serif" textLength="8.6" lengthAdjust="spacingAndGlyphs" >0</text>
<text x="117.6" y="192.2" font-size="17.6" fill="#111" text-anchor="start" font-family="Liberation Serif, serif" textLength="25.2" lengthAdjust="spacingAndGlyphs" >820</text>
<text x="235.4" y="192.2" font-size="17.6" fill="#111" text-anchor="start" font-family="Liberation Serif, serif" textLength="25.2" lengthAdjust="spacingAndGlyphs" >830</text>
<text x="353.2" y="192.2" font-size="17.6" fill="#111" text-anchor="start" font-family="Liberation Serif, serif" textLength="25.2" lengthAdjust="spacingAndGlyphs" >840</text>
<text x="471.0" y="192.2" font-size="17.6" fill="#111" text-anchor="start" font-family="Liberation Serif, serif" textLength="25.2" lengthAdjust="spacingAndGlyphs" >850</text>
<text transform="translate(200.6,209.5) scale(1.103,1)" x="0" y="0" font-size="16.4" fill="#111" font-family="Liberation Serif, serif">Wavenumber / cm<tspan font-size="11" dy="-6.5">-1</tspan></text>
<text x="295.9" y="72.7" font-size="14.2" fill="#111" text-anchor="start" font-family="Liberation Serif, serif" textLength="112.9" lengthAdjust="spacingAndGlyphs" >meas_spec, 21.3 km</text>
<text x="295.9" y="87.2" font-size="14.2" fill="#ff2020" text-anchor="start" font-family="Liberation Serif, serif" textLength="74.4" lengthAdjust="spacingAndGlyphs" >mod, no ClO</text>
<text x="295.9" y="101.6" font-size="14.2" fill="#1e88ff" text-anchor="start" font-family="Liberation Serif, serif" textLength="86.3" lengthAdjust="spacingAndGlyphs" >mod, with ClO</text>
<text transform="translate(19.3,212.7) rotate(-90) scale(1.107,1)" x="0" y="0" font-size="16.4" fill="#111" font-family="Liberation Serif, serif">Radiance / nW/(cm<tspan font-size="11" dy="-6.5">2</tspan><tspan dy="6.5"> sr cm</tspan><tspan font-size="11" dy="-6.5">-1</tspan><tspan dy="6.5">)</tspan></text>
<text x="59.5" y="236.0" font-size="21.5" fill="#111" text-anchor="start" font-family="Liberation Serif, serif" textLength="22.3" lengthAdjust="spacingAndGlyphs" >(b)</text>
<text x="223.0" y="236.6" font-size="21.3" fill="#111" text-anchor="start" font-family="Liberation Serif, serif" textLength="76.0" lengthAdjust="spacingAndGlyphs" >Residual</text>
<text x="56.5" y="254.6" font-size="16.6" fill="#111" text-anchor="end" font-family="Liberation Serif, serif" textLength="17.2" lengthAdjust="spacingAndGlyphs" >30</text>
<text x="56.5" y="269.9" font-size="16.6" fill="#111" text-anchor="end" font-family="Liberation Serif, serif" textLength="17.2" lengthAdjust="spacingAndGlyphs" >20</text>
<text x="56.5" y="287.8" font-size="16.6" fill="#111" text-anchor="end" font-family="Liberation Serif, serif" textLength="17.2" lengthAdjust="spacingAndGlyphs" >10</text>
<text x="56.5" y="305.9" font-size="16.6" fill="#111" text-anchor="end" font-family="Liberation Serif, serif" textLength="8.6" lengthAdjust="spacingAndGlyphs" >0</text>
<text x="56.5" y="323.9" font-size="16.6" fill="#111" text-anchor="end" font-family="Liberation Serif, serif" textLength="22.2" lengthAdjust="spacingAndGlyphs" >-10</text>
<text x="56.5" y="341.5" font-size="16.6" fill="#111" text-anchor="end" font-family="Liberation Serif, serif" textLength="22.2" lengthAdjust="spacingAndGlyphs" >-20</text>
<text x="56.5" y="356.1" font-size="16.6" fill="#111" text-anchor="end" font-family="Liberation Serif, serif" textLength="22.2" lengthAdjust="spacingAndGlyphs" >-30</text>
<text x="117.6" y="383.9" font-size="17.6" fill="#111" text-anchor="start" font-family="Liberation Serif, serif" textLength="25.2" lengthAdjust="spacingAndGlyphs" >820</text>
<text x="235.4" y="383.9" font-size="17.6" fill="#111" text-anchor="start" font-family="Liberation Serif, serif" textLength="25.2" lengthAdjust="spacingAndGlyphs" >830</text>
<text x="353.2" y="383.9" font-size="17.6" fill="#111" text-anchor="start" font-family="Liberation Serif, serif" textLength="25.2" lengthAdjust="spacingAndGlyphs" >840</text>
<text x="471.0" y="383.9" font-size="17.6" fill="#111" text-anchor="start" font-family="Liberation Serif, serif" textLength="25.2" lengthAdjust="spacingAndGlyphs" >850</text>
<text transform="translate(200.6,400.5) scale(1.103,1)" x="0" y="0" font-size="16.4" fill="#111" font-family="Liberation Serif, serif">Wavenumber / cm<tspan font-size="11" dy="-6.5">-1</tspan></text>
<text x="296.0" y="263.8" font-size="14.2" fill="#10e010" text-anchor="start" font-family="Liberation Serif, serif" textLength="122.5" lengthAdjust="spacingAndGlyphs" >modelled ClO signat.</text>
<text x="402.5" y="333.0" font-size="13.8" fill="#ff2020" text-anchor="start" font-family="Liberation Serif, serif" textLength="68.5" lengthAdjust="spacingAndGlyphs" xml:space="preserve">rms =  9.915</text>
<text x="402.5" y="347.0" font-size="13.8" fill="#1e88ff" text-anchor="start" font-family="Liberation Serif, serif" textLength="68.5" lengthAdjust="spacingAndGlyphs" xml:space="preserve">rms =  9.708</text>
</svg>
</body></html>
